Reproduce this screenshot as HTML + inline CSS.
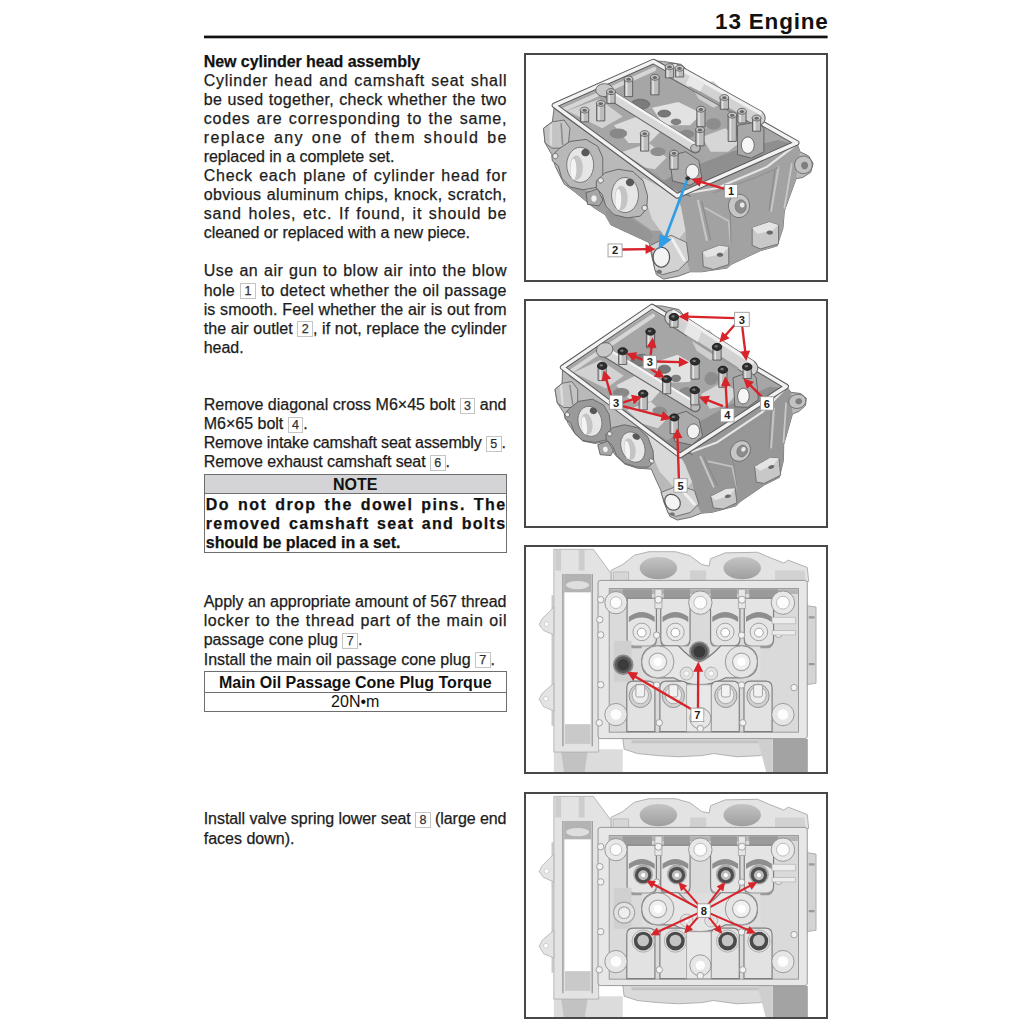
<!DOCTYPE html><html><head><meta charset="utf-8"><style>
*{margin:0;padding:0;box-sizing:border-box}
html,body{width:1024px;height:1024px;background:#fff;overflow:hidden}
body{position:relative;font-family:"Liberation Sans",sans-serif;color:#1c1c1c}
.l{position:absolute;left:203.70px;white-space:nowrap;font-size:16px;line-height:19px;-webkit-text-stroke:0.25px #1c1c1c}
.l.b{font-weight:bold;color:#111}
.bx{display:inline-block;width:15.6px;height:16px;border:1px solid #c4c4c4;font-size:12.5px;line-height:14px;text-align:center;color:#3a3a3a;letter-spacing:0;word-spacing:0;vertical-align:baseline;position:relative;top:-0.4px;font-weight:normal}

.hdr{position:absolute;left:600px;width:228.6px;text-align:right;top:6.95px;font-size:22.5px;letter-spacing:0.8px;font-weight:bold;line-height:30px;color:#111}
.hl{position:absolute;left:0;top:0}
.tb{position:absolute;left:204px;width:302.5px;border:1.3px solid #6e6e6e}
.fr{position:absolute;left:524px;width:304px;border:2px solid #484848}
.im{position:absolute;left:526px;overflow:hidden}
.th{position:absolute;left:0;right:0;text-align:center;font-weight:bold;font-size:16px;line-height:19px;color:#111}
</style></head><body><div class="hdr">13 Engine</div><svg class="hl" width="1024" height="60"><rect x="204" y="35.6" width="623.6" height="2.7" fill="#111"/></svg>
<div class="l b" style="left:203.70px;top:51.96px;letter-spacing:-0.055px;word-spacing:0.000px"><span>New cylinder head assembly</span></div>
<div class="l " style="left:203.70px;top:70.86px;letter-spacing:0.725px;word-spacing:1.087px"><span>Cylinder head and camshaft seat shall</span></div>
<div class="l " style="left:203.70px;top:89.86px;letter-spacing:0.330px;word-spacing:0.495px"><span>be used together, check whether the two</span></div>
<div class="l " style="left:203.70px;top:108.86px;letter-spacing:0.804px;word-spacing:1.207px"><span>codes are corresponding to the same,</span></div>
<div class="l " style="left:203.70px;top:127.86px;letter-spacing:1.398px;word-spacing:2.096px"><span>replace any one of them should be</span></div>
<div class="l " style="left:203.70px;top:146.96px;letter-spacing:-0.020px;word-spacing:0.000px"><span>replaced in a complete set.</span></div>
<div class="l " style="left:203.70px;top:165.96px;letter-spacing:0.760px;word-spacing:1.140px"><span>Check each plane of cylinder head for</span></div>
<div class="l " style="left:203.70px;top:184.96px;letter-spacing:0.374px;word-spacing:0.561px"><span>obvious aluminum chips, knock, scratch,</span></div>
<div class="l " style="left:203.70px;top:204.06px;letter-spacing:0.870px;word-spacing:1.304px"><span>sand holes, etc. If found, it should be</span></div>
<div class="l " style="left:203.70px;top:222.96px;letter-spacing:-0.039px;word-spacing:0.000px"><span>cleaned or replaced with a new piece.</span></div>
<div class="l " style="left:203.70px;top:261.06px;letter-spacing:0.516px;word-spacing:0.774px"><span>Use an air gun to blow air into the blow</span></div>
<div class="l " style="left:203.70px;top:280.56px;letter-spacing:0.273px;word-spacing:0.409px"><span>hole <span class="bx">1</span> to detect whether the oil passage</span></div>
<div class="l " style="left:203.70px;top:299.76px;letter-spacing:0.091px;word-spacing:0.136px"><span>is smooth. Feel whether the air is out from</span></div>
<div class="l " style="left:203.70px;top:318.86px;letter-spacing:0.062px;word-spacing:0.093px"><span>the air outlet <span class="bx">2</span>, if not, replace the cylinder</span></div>
<div class="l " style="left:203.70px;top:338.06px;letter-spacing:-0.037px;word-spacing:0.000px"><span>head.</span></div>
<div class="l " style="left:203.70px;top:395.26px;letter-spacing:0.008px;word-spacing:0.012px"><span>Remove diagonal cross M6×45 bolt <span class="bx">3</span> and</span></div>
<div class="l " style="left:203.70px;top:414.06px;letter-spacing:0.000px;word-spacing:0.000px"><span>M6×65 bolt <span class="bx">4</span>.</span></div>
<div class="l " style="left:203.70px;top:433.36px;letter-spacing:-0.135px;word-spacing:0.000px"><span>Remove intake camshaft seat assembly <span class="bx">5</span>.</span></div>
<div class="l " style="left:203.70px;top:452.46px;letter-spacing:-0.080px;word-spacing:0.000px"><span>Remove exhaust camshaft seat <span class="bx">6</span>.</span></div>
<div class="l b" style="left:205.80px;top:494.96px;letter-spacing:1.430px;word-spacing:2.144px"><span>Do not drop the dowel pins. The</span></div>
<div class="l b" style="left:205.80px;top:513.96px;letter-spacing:1.274px;word-spacing:1.912px"><span>removed camshaft seat and bolts</span></div>
<div class="l b" style="left:205.80px;top:532.86px;letter-spacing:0.000px;word-spacing:0.000px"><span>should be placed in a set.</span></div>
<div class="l " style="left:203.70px;top:592.26px;letter-spacing:-0.029px;word-spacing:-0.043px"><span>Apply an appropriate amount of 567 thread</span></div>
<div class="l " style="left:203.70px;top:611.36px;letter-spacing:0.572px;word-spacing:0.858px"><span>locker to the thread part of the main oil</span></div>
<div class="l " style="left:203.70px;top:630.36px;letter-spacing:0.000px;word-spacing:0.000px"><span>passage cone plug <span class="bx">7</span>.</span></div>
<div class="l " style="left:203.70px;top:649.76px;letter-spacing:0.000px;word-spacing:0.000px"><span>Install the main oil passage cone plug <span class="bx">7</span>.</span></div>
<div class="l " style="left:203.70px;top:809.16px;letter-spacing:-0.052px;word-spacing:-0.078px"><span>Install valve spring lower seat <span class="bx">8</span> (large end</span></div>
<div class="l " style="left:203.70px;top:828.76px;letter-spacing:0.000px;word-spacing:0.000px"><span>faces down).</span></div>
<div class="tb" style="top:473.5px;height:79.2px"><div style="position:absolute;left:0;right:0;top:0;height:19.4px;background:#d4d4d6;border-bottom:1.6px solid #707070"></div><div class="th" style="top:0.3px">NOTE</div></div>
<div class="tb" style="top:671.3px;height:40.5px"><div style="position:absolute;left:0;right:0;top:19.5px;height:1.6px;background:#707070"></div><div class="th" style="top:0.5px">Main Oil Passage Cone Plug Torque</div><div class="th" style="top:20.2px;font-weight:normal">20N•m</div></div>
<svg class="im" style="top:55px" width="300" height="225" viewBox="0 0 1024 768"><path d="M97.0,172.0 L435.0,20.0 L470.0,22.0 L530.0,32.0 L560.0,62.0 L640.0,110.0 L690.0,135.0 L720.0,185.0 L790.0,205.0 L812.0,248.0 L924.0,298.0 L935.0,330.0 L965.0,345.0 L980.0,370.0 L972.0,400.0 L945.0,418.0 L922.0,422.0 L882.0,532.0 L877.0,592.0 L857.0,652.0 L800.0,668.0 L700.0,715.0 L687.0,727.0 L600.0,740.0 L560.0,740.0 L520.0,755.0 L470.0,765.0 L445.0,750.0 L430.0,690.0 L420.0,640.0 L290.0,580.0 L270.0,545.0 L230.0,520.0 L170.0,470.0 L130.0,440.0 L100.0,380.0 L88.0,340.0 L65.0,300.0 L60.0,250.0 L90.0,228.0 Z" fill="#b9b9b9" stroke="#666" stroke-width="3" stroke-linejoin="round"/><path d="M135.0,440.0 L230.0,470.0 L300.0,500.0 L330.0,530.0 L430.0,600.0 L480.0,600.0 L500.0,640.0 L430.0,650.0 L420.0,640.0 L290.0,580.0 L270.0,545.0 L230.0,520.0 L170.0,470.0 Z" fill="#9c9c9c"/><path d="M270.0,532.0 L330.0,540.0 L420.0,600.0 L435.0,617.0 L420.0,640.0 L290.0,580.0 Z" fill="#959595"/><path d="M400.0,420.0 L516.0,481.0 L530.0,520.0 L545.0,600.0 L520.0,630.0 L470.0,615.0 L430.0,560.0 L410.0,500.0 Z" fill="#d9d9d9"/><path d="M516.0,481.0 L924.0,300.0 L935.0,330.0 L922.0,422.0 L882.0,532.0 L877.0,592.0 L857.0,652.0 L800.0,668.0 L700.0,715.0 L687.0,727.0 L600.0,740.0 L560.0,740.0 L548.0,700.0 L545.0,600.0 L530.0,520.0 Z" fill="#a2a2a2"/><path d="M587.0,497.0 L617.0,632.0" fill="none" stroke="#c6c6c6" stroke-width="7" stroke-linecap="round" stroke-linejoin="round"/><path d="M600.0,500.0 L630.0,630.0" fill="none" stroke="#8a8a8a" stroke-width="4" stroke-linecap="round" stroke-linejoin="round"/><path d="M612.0,522.0 L692.0,567.0 L700.0,660.0" fill="none" stroke="#c2c2c2" stroke-width="6" stroke-linecap="round" stroke-linejoin="round"/><path d="M697.0,532.0 L700.0,660.0" fill="none" stroke="#8c8c8c" stroke-width="4" stroke-linecap="round" stroke-linejoin="round"/><path d="M862.0,382.0 L837.0,532.0" fill="none" stroke="#c4c4c4" stroke-width="7" stroke-linecap="round" stroke-linejoin="round"/><path d="M907.0,372.0 L882.0,522.0" fill="none" stroke="#c8c8c8" stroke-width="6" stroke-linecap="round" stroke-linejoin="round"/><path d="M850.0,390.0 L830.0,530.0" fill="none" stroke="#8a8a8a" stroke-width="4" stroke-linecap="round" stroke-linejoin="round"/><path d="M640.0,470.0 L780.0,420.0 L860.0,385.0" fill="none" stroke="#959595" stroke-width="5" stroke-linecap="round" stroke-linejoin="round"/><path d="M470.0,430.0 L560.0,470.0 L650.0,455.0 L822.0,382.0 L924.0,305.0" fill="none" stroke="#e6e6e6" stroke-width="7" stroke-linecap="round" stroke-linejoin="round"/><path d="M480.0,446.0 L560.0,482.0" fill="none" stroke="#666" stroke-width="3" stroke-linecap="round" stroke-linejoin="round"/><path d="M772.0,590.0 L830.0,570.0 L862.0,580.0 L862.0,645.0 L800.0,662.0 L772.0,650.0 Z" fill="#c8c8c8" stroke="#6a6a6a" stroke-width="3" stroke-linejoin="round"/><path d="M772.0,590.0 L830.0,570.0 L862.0,580.0 L840.0,600.0 L790.0,610.0 Z" fill="#e4e4e4"/><path d="M843.0,606.0 L842.7,607.6 L841.9,609.0 L840.6,610.4 L838.9,611.5 L836.8,612.3 L834.4,612.8 L832.0,613.0 L829.6,612.8 L827.2,612.3 L825.1,611.5 L823.4,610.4 L822.1,609.0 L821.3,607.6 L821.0,606.0 L821.3,604.4 L822.1,603.0 L823.4,601.6 L825.1,600.5 L827.2,599.7 L829.6,599.2 L832.0,599.0 L834.4,599.2 L836.8,599.7 L838.9,600.5 L840.6,601.6 L841.9,603.0 L842.7,604.4 Z" fill="#6a6a6a"/><path d="M602.0,672.0 L660.0,650.0 L692.0,655.0 L692.0,715.0 L640.0,732.0 L605.0,722.0 Z" fill="#c8c8c8" stroke="#6a6a6a" stroke-width="3" stroke-linejoin="round"/><path d="M602.0,672.0 L660.0,650.0 L692.0,655.0 L670.0,680.0 L615.0,690.0 Z" fill="#e4e4e4"/><path d="M673.0,682.0 L672.7,683.6 L671.9,685.0 L670.6,686.4 L668.9,687.5 L666.8,688.3 L664.4,688.8 L662.0,689.0 L659.6,688.8 L657.2,688.3 L655.1,687.5 L653.4,686.4 L652.1,685.0 L651.3,683.6 L651.0,682.0 L651.3,680.4 L652.1,679.0 L653.4,677.6 L655.1,676.5 L657.2,675.7 L659.6,675.2 L662.0,675.0 L664.4,675.2 L666.8,675.7 L668.9,676.5 L670.6,677.6 L671.9,679.0 L672.7,680.4 Z" fill="#6a6a6a"/><path d="M763.0,515.0 L762.1,523.9 L759.4,532.4 L755.1,539.9 L749.4,546.3 L742.6,551.0 L735.0,554.0 L727.0,555.0 L719.0,554.0 L711.4,551.0 L704.6,546.3 L698.9,539.9 L694.6,532.4 L691.9,523.9 L691.0,515.0 L691.9,506.1 L694.6,497.6 L698.9,490.1 L704.6,483.7 L711.4,479.0 L719.0,476.0 L727.0,475.0 L735.0,476.0 L742.6,479.0 L749.4,483.7 L755.1,490.1 L759.4,497.6 L762.1,506.1 Z" fill="#c6c6c6" stroke="#686868" stroke-width="3" stroke-linejoin="round"/><path d="M752.0,517.0 L751.5,522.1 L750.1,527.0 L747.9,531.3 L744.8,535.0 L741.2,537.7 L737.2,539.4 L733.0,540.0 L728.8,539.4 L724.8,537.7 L721.2,535.0 L718.1,531.3 L715.9,527.0 L714.5,522.1 L714.0,517.0 L714.5,511.9 L715.9,507.0 L718.1,502.7 L721.2,499.0 L724.8,496.3 L728.8,494.6 L733.0,494.0 L737.2,494.6 L741.2,496.3 L744.8,499.0 L747.9,502.7 L750.1,507.0 L751.5,511.9 Z" fill="#8c8c8c" stroke="#666" stroke-width="2" stroke-linejoin="round"/><path d="M746.0,512.0 L745.8,514.0 L745.2,515.9 L744.3,517.6 L743.0,519.0 L741.5,520.1 L739.8,520.8 L738.0,521.0 L736.2,520.8 L734.5,520.1 L733.0,519.0 L731.7,517.6 L730.8,515.9 L730.2,514.0 L730.0,512.0 L730.2,510.0 L730.8,508.1 L731.7,506.4 L733.0,505.0 L734.5,503.9 L736.2,503.2 L738.0,503.0 L739.8,503.2 L741.5,503.9 L743.0,505.0 L744.3,506.4 L745.2,508.1 L745.8,510.0 Z" fill="#e8e8e8"/><path d="M977.0,375.0 L976.2,381.7 L974.0,388.0 L970.5,393.7 L965.7,398.5 L960.0,402.0 L953.7,404.2 L947.0,405.0 L940.3,404.2 L934.0,402.0 L928.3,398.5 L923.5,393.7 L920.0,388.0 L917.8,381.7 L917.0,375.0 L917.8,368.3 L920.0,362.0 L923.5,356.3 L928.3,351.5 L934.0,348.0 L940.3,345.8 L947.0,345.0 L953.7,345.8 L960.0,348.0 L965.7,351.5 L970.5,356.3 L974.0,362.0 L976.2,368.3 Z" fill="#c2c2c2" stroke="#666" stroke-width="3" stroke-linejoin="round"/><path d="M963.0,377.0 L962.7,379.9 L961.8,382.6 L960.4,385.1 L958.5,387.2 L956.2,388.7 L953.7,389.7 L951.0,390.0 L948.3,389.7 L945.8,388.7 L943.5,387.2 L941.6,385.1 L940.2,382.6 L939.3,379.9 L939.0,377.0 L939.3,374.1 L940.2,371.4 L941.6,368.9 L943.5,366.8 L945.8,365.3 L948.3,364.3 L951.0,364.0 L953.7,364.3 L956.2,365.3 L958.5,366.8 L960.4,368.9 L961.8,371.4 L962.7,374.1 Z" fill="#7e7e7e"/><path d="M112.0,178.0 L435.0,34.0 L912.0,298.0 L516.0,468.0 Z" fill="#a6a6a6"/><path d="M140.0,190.0 L250.0,150.0 L330.0,210.0 L260.0,250.0 Z" fill="#d2d2d2"/><path d="M300.0,240.0 L380.0,210.0 L460.0,260.0 L420.0,300.0 L350.0,300.0 Z" fill="#dcdcdc"/><path d="M430.0,180.0 L520.0,160.0 L600.0,200.0 L560.0,240.0 L470.0,240.0 Z" fill="#e2e2e2"/><path d="M330.0,330.0 L420.0,300.0 L480.0,350.0 L440.0,390.0 L380.0,380.0 Z" fill="#d8d8d8"/><path d="M600.0,280.0 L680.0,250.0 L740.0,290.0 L690.0,330.0 L630.0,330.0 Z" fill="#d6d6d6"/><path d="M560.0,100.0 L640.0,90.0 L700.0,150.0 L640.0,180.0 L590.0,150.0 Z" fill="#cfcfcf"/><path d="M422.0,168.0 L421.2,171.8 L418.8,175.4 L415.0,178.6 L410.0,181.3 L403.9,183.3 L397.1,184.6 L390.0,185.0 L382.9,184.6 L376.1,183.3 L370.0,181.3 L365.0,178.6 L361.2,175.4 L358.8,171.8 L358.0,168.0 L358.8,164.2 L361.2,160.6 L365.0,157.4 L370.0,154.7 L376.1,152.7 L382.9,151.4 L390.0,151.0 L397.1,151.4 L403.9,152.7 L410.0,154.7 L415.0,157.4 L418.8,160.6 L421.2,164.2 Z" fill="#7c7c7c" stroke="#555" stroke-width="2" stroke-linejoin="round"/><path d="M494.0,200.0 L493.4,202.7 L491.8,205.2 L489.2,207.5 L485.7,209.4 L481.5,210.8 L476.9,211.7 L472.0,212.0 L467.1,211.7 L462.5,210.8 L458.3,209.4 L454.8,207.5 L452.2,205.2 L450.6,202.7 L450.0,200.0 L450.6,197.3 L452.2,194.8 L454.8,192.5 L458.3,190.6 L462.5,189.2 L467.1,188.3 L472.0,188.0 L476.9,188.3 L481.5,189.2 L485.7,190.6 L489.2,192.5 L491.8,194.8 L493.4,197.3 Z" fill="#777" stroke="#555" stroke-width="2" stroke-linejoin="round"/><path d="M530.0,228.0 L529.5,230.4 L528.2,232.8 L526.1,234.9 L523.2,236.6 L519.8,237.9 L516.0,238.7 L512.0,239.0 L508.0,238.7 L504.2,237.9 L500.8,236.6 L497.9,234.9 L495.8,232.8 L494.5,230.4 L494.0,228.0 L494.5,225.6 L495.8,223.2 L497.9,221.1 L500.8,219.4 L504.2,218.1 L508.0,217.3 L512.0,217.0 L516.0,217.3 L519.8,218.1 L523.2,219.4 L526.1,221.1 L528.2,223.2 L529.5,225.6 Z" fill="#808080"/><path d="M574.0,270.0 L573.3,273.3 L571.4,276.5 L568.3,279.4 L564.2,281.7 L559.3,283.5 L553.8,284.6 L548.0,285.0 L542.2,284.6 L536.7,283.5 L531.8,281.7 L527.7,279.4 L524.6,276.5 L522.7,273.3 L522.0,270.0 L522.7,266.7 L524.6,263.5 L527.7,260.6 L531.8,258.3 L536.7,256.5 L542.2,255.4 L548.0,255.0 L553.8,255.4 L559.3,256.5 L564.2,258.3 L568.3,260.6 L571.4,263.5 L573.3,266.7 Z" fill="#8a8a8a"/><path d="M345.0,268.0 L344.2,271.8 L342.0,275.4 L338.5,278.6 L333.7,281.3 L328.0,283.3 L321.7,284.6 L315.0,285.0 L308.3,284.6 L302.0,283.3 L296.3,281.3 L291.5,278.6 L288.0,275.4 L285.8,271.8 L285.0,268.0 L285.8,264.2 L288.0,260.6 L291.5,257.4 L296.3,254.7 L302.0,252.7 L308.3,251.4 L315.0,251.0 L321.7,251.4 L328.0,252.7 L333.7,254.7 L338.5,257.4 L342.0,260.6 L344.2,264.2 Z" fill="#888"/><path d="M665.0,235.0 L664.4,239.5 L662.5,243.7 L659.5,247.5 L655.6,250.6 L650.8,253.0 L645.6,254.5 L640.0,255.0 L634.4,254.5 L629.2,253.0 L624.4,250.6 L620.5,247.5 L617.5,243.7 L615.6,239.5 L615.0,235.0 L615.6,230.5 L617.5,226.3 L620.5,222.5 L624.4,219.4 L629.2,217.0 L634.4,215.5 L640.0,215.0 L645.6,215.5 L650.8,217.0 L655.6,219.4 L659.5,222.5 L662.5,226.3 L664.4,230.5 Z" fill="#8d8d8d"/><path d="M476.0,330.0 L475.3,333.3 L473.4,336.5 L470.3,339.4 L466.2,341.7 L461.3,343.5 L455.8,344.6 L450.0,345.0 L444.2,344.6 L438.7,343.5 L433.8,341.7 L429.7,339.4 L426.6,336.5 L424.7,333.3 L424.0,330.0 L424.7,326.7 L426.6,323.5 L429.7,320.6 L433.8,318.3 L438.7,316.5 L444.2,315.4 L450.0,315.0 L455.8,315.4 L461.3,316.5 L466.2,318.3 L470.3,320.6 L473.4,323.5 L475.3,326.7 Z" fill="#8e8e8e"/><path d="M122.0,190.0 L438.0,48.0" fill="none" stroke="#d6d6d6" stroke-width="14" stroke-linecap="round" stroke-linejoin="round"/><path d="M125.0,200.0 L500.0,455.0" fill="none" stroke="#939393" stroke-width="12" stroke-linecap="round" stroke-linejoin="round"/><path d="M470.0,430.0 L520.0,400.0 L700.0,330.0 L860.0,290.0 L900.0,300.0 L520.0,468.0 Z" fill="#8f8f8f"/><path d="M97.0,172.0 L435.0,22.0 L924.0,300.0 L516.0,481.0 Z" fill="none" stroke="#5a5a5a" stroke-width="19" stroke-linecap="round" stroke-linejoin="round"/><path d="M97.0,172.0 L435.0,22.0 L924.0,300.0 L516.0,481.0 Z" fill="none" stroke="#f2f2f2" stroke-width="12" stroke-linecap="round" stroke-linejoin="round"/><path d="M505.0,55.0 L790.0,215.0" fill="none" stroke="#666" stroke-width="56" stroke-linecap="round" stroke-linejoin="round"/><path d="M505.0,55.0 L790.0,215.0" fill="none" stroke="#d2d2d2" stroke-width="49" stroke-linecap="round" stroke-linejoin="round"/><path d="M510.0,38.0 L800.0,198.0" fill="none" stroke="#efefef" stroke-width="12" stroke-linecap="round" stroke-linejoin="round"/><path d="M560.0,110.0 L740.0,212.0" fill="none" stroke="#9c9c9c" stroke-width="9" stroke-linecap="round" stroke-linejoin="round"/><path d="M560.0,70.0 L610.0,95.0 L595.0,125.0 L545.0,100.0 Z" fill="#e8e8e8"/><path d="M722.0,240.0 L790.0,228.0 L812.0,250.0 L812.0,330.0 L770.0,352.0 L722.0,340.0 Z" fill="#a8a8a8" stroke="#5c5c5c" stroke-width="3" stroke-linejoin="round"/><path d="M779.0,308.0 L778.4,314.2 L776.8,320.1 L774.2,325.5 L770.7,329.9 L766.5,333.2 L761.9,335.3 L757.0,336.0 L752.1,335.3 L747.5,333.2 L743.3,329.9 L739.8,325.5 L737.2,320.1 L735.6,314.2 L735.0,308.0 L735.6,301.8 L737.2,295.9 L739.8,290.5 L743.3,286.1 L747.5,282.8 L752.1,280.7 L757.0,280.0 L761.9,280.7 L766.5,282.8 L770.7,286.1 L774.2,290.5 L776.8,295.9 L778.4,301.8 Z" fill="#f6f6f6" stroke="#5c5c5c" stroke-width="3" stroke-linejoin="round"/><path d="M262.0,120.0 L578.0,318.0" fill="none" stroke="#666" stroke-width="36" stroke-linecap="round" stroke-linejoin="round"/><path d="M262.0,120.0 L578.0,318.0" fill="none" stroke="#d8d8d8" stroke-width="29" stroke-linecap="round" stroke-linejoin="round"/><path d="M268.0,110.0 L585.0,308.0" fill="none" stroke="#f4f4f4" stroke-width="8" stroke-linecap="round" stroke-linejoin="round"/><path d="M298.0,120.0 L297.2,124.9 L295.0,129.5 L291.5,133.7 L286.7,137.2 L281.0,139.8 L274.7,141.4 L268.0,142.0 L261.3,141.4 L255.0,139.8 L249.3,137.2 L244.5,133.7 L241.0,129.5 L238.8,124.9 L238.0,120.0 L238.8,115.1 L241.0,110.5 L244.5,106.3 L249.3,102.8 L255.0,100.2 L261.3,98.6 L268.0,98.0 L274.7,98.6 L281.0,100.2 L286.7,102.8 L291.5,106.3 L295.0,110.5 L297.2,115.1 Z" fill="#c8c8c8" stroke="#5c5c5c" stroke-width="3" stroke-linejoin="round"/><path d="M594.0,318.0 L593.6,321.1 L592.4,324.1 L590.5,326.7 L588.0,328.9 L584.9,330.6 L581.6,331.6 L578.0,332.0 L574.4,331.6 L571.1,330.6 L568.0,328.9 L565.5,326.7 L563.6,324.1 L562.4,321.1 L562.0,318.0 L562.4,314.9 L563.6,311.9 L565.5,309.3 L568.0,307.1 L571.1,305.4 L574.4,304.4 L578.0,304.0 L581.6,304.4 L584.9,305.4 L588.0,307.1 L590.5,309.3 L592.4,311.9 L593.6,314.9 Z" fill="#bbb" stroke="#5c5c5c" stroke-width="3" stroke-linejoin="round"/><path d="M490.0,345.0 L545.0,330.0 L590.0,360.0 L600.0,420.0 L560.0,445.0 L500.0,430.0 Z" fill="#ababab" stroke="#5c5c5c" stroke-width="3" stroke-linejoin="round"/><path d="M590.0,398.0 L589.4,403.6 L587.8,408.8 L585.2,413.6 L581.7,417.5 L577.5,420.5 L572.9,422.4 L568.0,423.0 L563.1,422.4 L558.5,420.5 L554.3,417.5 L550.8,413.6 L548.2,408.8 L546.6,403.6 L546.0,398.0 L546.6,392.4 L548.2,387.2 L550.8,382.4 L554.3,378.5 L558.5,375.5 L563.1,373.6 L568.0,373.0 L572.9,373.6 L577.5,375.5 L581.7,378.5 L585.2,382.4 L587.8,387.2 L589.4,392.4 Z" fill="#f2f2f2" stroke="#5c5c5c" stroke-width="3" stroke-linejoin="round"/><path d="M476.0,40.0 L504.0,40.0 L504.0,78.0 L476.0,78.0 Z" fill="#bdbdbd" stroke="#555" stroke-width="3" stroke-linejoin="round"/><path d="M484.0,44.0 L484.0,74.0" fill="none" stroke="#e4e4e4" stroke-width="5" stroke-linecap="round" stroke-linejoin="round"/><path d="M505.0,40.0 L504.6,42.2 L503.5,44.3 L501.7,46.2 L499.4,47.8 L496.5,49.0 L493.3,49.7 L490.0,50.0 L486.7,49.7 L483.5,49.0 L480.6,47.8 L478.3,46.2 L476.5,44.3 L475.4,42.2 L475.0,40.0 L475.4,37.8 L476.5,35.7 L478.3,33.8 L480.6,32.2 L483.5,31.0 L486.7,30.3 L490.0,30.0 L493.3,30.3 L496.5,31.0 L499.4,32.2 L501.7,33.8 L503.5,35.7 L504.6,37.8 Z" fill="#c9c9c9" stroke="#555" stroke-width="3" stroke-linejoin="round"/><path d="M498.0,41.0 L497.8,42.1 L497.2,43.2 L496.3,44.1 L495.0,44.9 L493.5,45.5 L491.8,45.9 L490.0,46.0 L488.2,45.9 L486.5,45.5 L485.0,44.9 L483.7,44.1 L482.8,43.2 L482.2,42.1 L482.0,41.0 L482.2,39.9 L482.8,38.8 L483.7,37.9 L485.0,37.1 L486.5,36.5 L488.2,36.1 L490.0,36.0 L491.8,36.1 L493.5,36.5 L495.0,37.1 L496.3,37.9 L497.2,38.8 L497.8,39.9 Z" fill="#6a6a6a"/><path d="M510.0,45.0 L538.0,45.0 L538.0,75.0 L510.0,75.0 Z" fill="#bdbdbd" stroke="#555" stroke-width="3" stroke-linejoin="round"/><path d="M518.0,49.0 L518.0,71.0" fill="none" stroke="#e4e4e4" stroke-width="5" stroke-linecap="round" stroke-linejoin="round"/><path d="M539.0,45.0 L538.6,47.2 L537.5,49.3 L535.7,51.2 L533.4,52.8 L530.5,54.0 L527.3,54.7 L524.0,55.0 L520.7,54.7 L517.5,54.0 L514.6,52.8 L512.3,51.2 L510.5,49.3 L509.4,47.2 L509.0,45.0 L509.4,42.8 L510.5,40.7 L512.3,38.8 L514.6,37.2 L517.5,36.0 L520.7,35.3 L524.0,35.0 L527.3,35.3 L530.5,36.0 L533.4,37.2 L535.7,38.8 L537.5,40.7 L538.6,42.8 Z" fill="#c9c9c9" stroke="#555" stroke-width="3" stroke-linejoin="round"/><path d="M532.0,46.0 L531.8,47.1 L531.2,48.2 L530.3,49.1 L529.0,49.9 L527.5,50.5 L525.8,50.9 L524.0,51.0 L522.2,50.9 L520.5,50.5 L519.0,49.9 L517.7,49.1 L516.8,48.2 L516.2,47.1 L516.0,46.0 L516.2,44.9 L516.8,43.8 L517.7,42.9 L519.0,42.1 L520.5,41.5 L522.2,41.1 L524.0,41.0 L525.8,41.1 L527.5,41.5 L529.0,42.1 L530.3,42.9 L531.2,43.8 L531.8,44.9 Z" fill="#6a6a6a"/><path d="M336.0,82.0 L364.0,82.0 L364.0,142.0 L336.0,142.0 Z" fill="#bdbdbd" stroke="#555" stroke-width="3" stroke-linejoin="round"/><path d="M344.0,86.0 L344.0,138.0" fill="none" stroke="#e4e4e4" stroke-width="5" stroke-linecap="round" stroke-linejoin="round"/><path d="M365.0,82.0 L364.6,84.2 L363.5,86.3 L361.7,88.2 L359.4,89.8 L356.5,91.0 L353.3,91.7 L350.0,92.0 L346.7,91.7 L343.5,91.0 L340.6,89.8 L338.3,88.2 L336.5,86.3 L335.4,84.2 L335.0,82.0 L335.4,79.8 L336.5,77.7 L338.3,75.8 L340.6,74.2 L343.5,73.0 L346.7,72.3 L350.0,72.0 L353.3,72.3 L356.5,73.0 L359.4,74.2 L361.7,75.8 L363.5,77.7 L364.6,79.8 Z" fill="#c9c9c9" stroke="#555" stroke-width="3" stroke-linejoin="round"/><path d="M358.0,83.0 L357.8,84.1 L357.2,85.2 L356.3,86.1 L355.0,86.9 L353.5,87.5 L351.8,87.9 L350.0,88.0 L348.2,87.9 L346.5,87.5 L345.0,86.9 L343.7,86.1 L342.8,85.2 L342.2,84.1 L342.0,83.0 L342.2,81.9 L342.8,80.8 L343.7,79.9 L345.0,79.1 L346.5,78.5 L348.2,78.1 L350.0,78.0 L351.8,78.1 L353.5,78.5 L355.0,79.1 L356.3,79.9 L357.2,80.8 L357.8,81.9 Z" fill="#6a6a6a"/><path d="M426.0,76.0 L454.0,76.0 L454.0,136.0 L426.0,136.0 Z" fill="#bdbdbd" stroke="#555" stroke-width="3" stroke-linejoin="round"/><path d="M434.0,80.0 L434.0,132.0" fill="none" stroke="#e4e4e4" stroke-width="5" stroke-linecap="round" stroke-linejoin="round"/><path d="M455.0,76.0 L454.6,78.2 L453.5,80.3 L451.7,82.2 L449.4,83.8 L446.5,85.0 L443.3,85.7 L440.0,86.0 L436.7,85.7 L433.5,85.0 L430.6,83.8 L428.3,82.2 L426.5,80.3 L425.4,78.2 L425.0,76.0 L425.4,73.8 L426.5,71.7 L428.3,69.8 L430.6,68.2 L433.5,67.0 L436.7,66.3 L440.0,66.0 L443.3,66.3 L446.5,67.0 L449.4,68.2 L451.7,69.8 L453.5,71.7 L454.6,73.8 Z" fill="#c9c9c9" stroke="#555" stroke-width="3" stroke-linejoin="round"/><path d="M448.0,77.0 L447.8,78.1 L447.2,79.2 L446.3,80.1 L445.0,80.9 L443.5,81.5 L441.8,81.9 L440.0,82.0 L438.2,81.9 L436.5,81.5 L435.0,80.9 L433.7,80.1 L432.8,79.2 L432.2,78.1 L432.0,77.0 L432.2,75.9 L432.8,74.8 L433.7,73.9 L435.0,73.1 L436.5,72.5 L438.2,72.1 L440.0,72.0 L441.8,72.1 L443.5,72.5 L445.0,73.1 L446.3,73.9 L447.2,74.8 L447.8,75.9 Z" fill="#6a6a6a"/><path d="M241.0,165.0 L269.0,165.0 L269.0,225.0 L241.0,225.0 Z" fill="#bdbdbd" stroke="#555" stroke-width="3" stroke-linejoin="round"/><path d="M249.0,169.0 L249.0,221.0" fill="none" stroke="#e4e4e4" stroke-width="5" stroke-linecap="round" stroke-linejoin="round"/><path d="M270.0,165.0 L269.6,167.2 L268.5,169.3 L266.7,171.2 L264.4,172.8 L261.5,174.0 L258.3,174.7 L255.0,175.0 L251.7,174.7 L248.5,174.0 L245.6,172.8 L243.3,171.2 L241.5,169.3 L240.4,167.2 L240.0,165.0 L240.4,162.8 L241.5,160.7 L243.3,158.8 L245.6,157.2 L248.5,156.0 L251.7,155.3 L255.0,155.0 L258.3,155.3 L261.5,156.0 L264.4,157.2 L266.7,158.8 L268.5,160.7 L269.6,162.8 Z" fill="#c9c9c9" stroke="#555" stroke-width="3" stroke-linejoin="round"/><path d="M263.0,166.0 L262.8,167.1 L262.2,168.2 L261.3,169.1 L260.0,169.9 L258.5,170.5 L256.8,170.9 L255.0,171.0 L253.2,170.9 L251.5,170.5 L250.0,169.9 L248.7,169.1 L247.8,168.2 L247.2,167.1 L247.0,166.0 L247.2,164.9 L247.8,163.8 L248.7,162.9 L250.0,162.1 L251.5,161.5 L253.2,161.1 L255.0,161.0 L256.8,161.1 L258.5,161.5 L260.0,162.1 L261.3,162.9 L262.2,163.8 L262.8,164.9 Z" fill="#6a6a6a"/><path d="M391.0,268.0 L419.0,268.0 L419.0,328.0 L391.0,328.0 Z" fill="#bdbdbd" stroke="#555" stroke-width="3" stroke-linejoin="round"/><path d="M399.0,272.0 L399.0,324.0" fill="none" stroke="#e4e4e4" stroke-width="5" stroke-linecap="round" stroke-linejoin="round"/><path d="M420.0,268.0 L419.6,270.2 L418.5,272.3 L416.7,274.2 L414.4,275.8 L411.5,277.0 L408.3,277.7 L405.0,278.0 L401.7,277.7 L398.5,277.0 L395.6,275.8 L393.3,274.2 L391.5,272.3 L390.4,270.2 L390.0,268.0 L390.4,265.8 L391.5,263.7 L393.3,261.8 L395.6,260.2 L398.5,259.0 L401.7,258.3 L405.0,258.0 L408.3,258.3 L411.5,259.0 L414.4,260.2 L416.7,261.8 L418.5,263.7 L419.6,265.8 Z" fill="#c9c9c9" stroke="#555" stroke-width="3" stroke-linejoin="round"/><path d="M413.0,269.0 L412.8,270.1 L412.2,271.2 L411.3,272.1 L410.0,272.9 L408.5,273.5 L406.8,273.9 L405.0,274.0 L403.2,273.9 L401.5,273.5 L400.0,272.9 L398.7,272.1 L397.8,271.2 L397.2,270.1 L397.0,269.0 L397.2,267.9 L397.8,266.8 L398.7,265.9 L400.0,265.1 L401.5,264.5 L403.2,264.1 L405.0,264.0 L406.8,264.1 L408.5,264.5 L410.0,265.1 L411.3,265.9 L412.2,266.8 L412.8,267.9 Z" fill="#6a6a6a"/><path d="M491.0,335.0 L519.0,335.0 L519.0,390.0 L491.0,390.0 Z" fill="#bdbdbd" stroke="#555" stroke-width="3" stroke-linejoin="round"/><path d="M499.0,339.0 L499.0,386.0" fill="none" stroke="#e4e4e4" stroke-width="5" stroke-linecap="round" stroke-linejoin="round"/><path d="M520.0,335.0 L519.6,337.2 L518.5,339.3 L516.7,341.2 L514.4,342.8 L511.5,344.0 L508.3,344.7 L505.0,345.0 L501.7,344.7 L498.5,344.0 L495.6,342.8 L493.3,341.2 L491.5,339.3 L490.4,337.2 L490.0,335.0 L490.4,332.8 L491.5,330.7 L493.3,328.8 L495.6,327.2 L498.5,326.0 L501.7,325.3 L505.0,325.0 L508.3,325.3 L511.5,326.0 L514.4,327.2 L516.7,328.8 L518.5,330.7 L519.6,332.8 Z" fill="#c9c9c9" stroke="#555" stroke-width="3" stroke-linejoin="round"/><path d="M513.0,336.0 L512.8,337.1 L512.2,338.2 L511.3,339.1 L510.0,339.9 L508.5,340.5 L506.8,340.9 L505.0,341.0 L503.2,340.9 L501.5,340.5 L500.0,339.9 L498.7,339.1 L497.8,338.2 L497.2,337.1 L497.0,336.0 L497.2,334.9 L497.8,333.8 L498.7,332.9 L500.0,332.1 L501.5,331.5 L503.2,331.1 L505.0,331.0 L506.8,331.1 L508.5,331.5 L510.0,332.1 L511.3,332.9 L512.2,333.8 L512.8,334.9 Z" fill="#6a6a6a"/><path d="M583.0,185.0 L611.0,185.0 L611.0,245.0 L583.0,245.0 Z" fill="#bdbdbd" stroke="#555" stroke-width="3" stroke-linejoin="round"/><path d="M591.0,189.0 L591.0,241.0" fill="none" stroke="#e4e4e4" stroke-width="5" stroke-linecap="round" stroke-linejoin="round"/><path d="M612.0,185.0 L611.6,187.2 L610.5,189.3 L608.7,191.2 L606.4,192.8 L603.5,194.0 L600.3,194.7 L597.0,195.0 L593.7,194.7 L590.5,194.0 L587.6,192.8 L585.3,191.2 L583.5,189.3 L582.4,187.2 L582.0,185.0 L582.4,182.8 L583.5,180.7 L585.3,178.8 L587.6,177.2 L590.5,176.0 L593.7,175.3 L597.0,175.0 L600.3,175.3 L603.5,176.0 L606.4,177.2 L608.7,178.8 L610.5,180.7 L611.6,182.8 Z" fill="#c9c9c9" stroke="#555" stroke-width="3" stroke-linejoin="round"/><path d="M605.0,186.0 L604.8,187.1 L604.2,188.2 L603.3,189.1 L602.0,189.9 L600.5,190.5 L598.8,190.9 L597.0,191.0 L595.2,190.9 L593.5,190.5 L592.0,189.9 L590.7,189.1 L589.8,188.2 L589.2,187.1 L589.0,186.0 L589.2,184.9 L589.8,183.8 L590.7,182.9 L592.0,182.1 L593.5,181.5 L595.2,181.1 L597.0,181.0 L598.8,181.1 L600.5,181.5 L602.0,182.1 L603.3,182.9 L604.2,183.8 L604.8,184.9 Z" fill="#6a6a6a"/><path d="M580.0,255.0 L608.0,255.0 L608.0,310.0 L580.0,310.0 Z" fill="#bdbdbd" stroke="#555" stroke-width="3" stroke-linejoin="round"/><path d="M588.0,259.0 L588.0,306.0" fill="none" stroke="#e4e4e4" stroke-width="5" stroke-linecap="round" stroke-linejoin="round"/><path d="M609.0,255.0 L608.6,257.2 L607.5,259.3 L605.7,261.2 L603.4,262.8 L600.5,264.0 L597.3,264.7 L594.0,265.0 L590.7,264.7 L587.5,264.0 L584.6,262.8 L582.3,261.2 L580.5,259.3 L579.4,257.2 L579.0,255.0 L579.4,252.8 L580.5,250.7 L582.3,248.8 L584.6,247.2 L587.5,246.0 L590.7,245.3 L594.0,245.0 L597.3,245.3 L600.5,246.0 L603.4,247.2 L605.7,248.8 L607.5,250.7 L608.6,252.8 Z" fill="#c9c9c9" stroke="#555" stroke-width="3" stroke-linejoin="round"/><path d="M602.0,256.0 L601.8,257.1 L601.2,258.2 L600.3,259.1 L599.0,259.9 L597.5,260.5 L595.8,260.9 L594.0,261.0 L592.2,260.9 L590.5,260.5 L589.0,259.9 L587.7,259.1 L586.8,258.2 L586.2,257.1 L586.0,256.0 L586.2,254.9 L586.8,253.8 L587.7,252.9 L589.0,252.1 L590.5,251.5 L592.2,251.1 L594.0,251.0 L595.8,251.1 L597.5,251.5 L599.0,252.1 L600.3,252.9 L601.2,253.8 L601.8,254.9 Z" fill="#6a6a6a"/><path d="M663.0,145.0 L691.0,145.0 L691.0,185.0 L663.0,185.0 Z" fill="#bdbdbd" stroke="#555" stroke-width="3" stroke-linejoin="round"/><path d="M671.0,149.0 L671.0,181.0" fill="none" stroke="#e4e4e4" stroke-width="5" stroke-linecap="round" stroke-linejoin="round"/><path d="M692.0,145.0 L691.6,147.2 L690.5,149.3 L688.7,151.2 L686.4,152.8 L683.5,154.0 L680.3,154.7 L677.0,155.0 L673.7,154.7 L670.5,154.0 L667.6,152.8 L665.3,151.2 L663.5,149.3 L662.4,147.2 L662.0,145.0 L662.4,142.8 L663.5,140.7 L665.3,138.8 L667.6,137.2 L670.5,136.0 L673.7,135.3 L677.0,135.0 L680.3,135.3 L683.5,136.0 L686.4,137.2 L688.7,138.8 L690.5,140.7 L691.6,142.8 Z" fill="#c9c9c9" stroke="#555" stroke-width="3" stroke-linejoin="round"/><path d="M685.0,146.0 L684.8,147.1 L684.2,148.2 L683.3,149.1 L682.0,149.9 L680.5,150.5 L678.8,150.9 L677.0,151.0 L675.2,150.9 L673.5,150.5 L672.0,149.9 L670.7,149.1 L669.8,148.2 L669.2,147.1 L669.0,146.0 L669.2,144.9 L669.8,143.8 L670.7,142.9 L672.0,142.1 L673.5,141.5 L675.2,141.1 L677.0,141.0 L678.8,141.1 L680.5,141.5 L682.0,142.1 L683.3,142.9 L684.2,143.8 L684.8,144.9 Z" fill="#6a6a6a"/><path d="M690.0,205.0 L718.0,205.0 L718.0,295.0 L690.0,295.0 Z" fill="#bdbdbd" stroke="#555" stroke-width="3" stroke-linejoin="round"/><path d="M698.0,209.0 L698.0,291.0" fill="none" stroke="#e4e4e4" stroke-width="5" stroke-linecap="round" stroke-linejoin="round"/><path d="M719.0,205.0 L718.6,207.2 L717.5,209.3 L715.7,211.2 L713.4,212.8 L710.5,214.0 L707.3,214.7 L704.0,215.0 L700.7,214.7 L697.5,214.0 L694.6,212.8 L692.3,211.2 L690.5,209.3 L689.4,207.2 L689.0,205.0 L689.4,202.8 L690.5,200.7 L692.3,198.8 L694.6,197.2 L697.5,196.0 L700.7,195.3 L704.0,195.0 L707.3,195.3 L710.5,196.0 L713.4,197.2 L715.7,198.8 L717.5,200.7 L718.6,202.8 Z" fill="#c9c9c9" stroke="#555" stroke-width="3" stroke-linejoin="round"/><path d="M712.0,206.0 L711.8,207.1 L711.2,208.2 L710.3,209.1 L709.0,209.9 L707.5,210.5 L705.8,210.9 L704.0,211.0 L702.2,210.9 L700.5,210.5 L699.0,209.9 L697.7,209.1 L696.8,208.2 L696.2,207.1 L696.0,206.0 L696.2,204.9 L696.8,203.8 L697.7,202.9 L699.0,202.1 L700.5,201.5 L702.2,201.1 L704.0,201.0 L705.8,201.1 L707.5,201.5 L709.0,202.1 L710.3,202.9 L711.2,203.8 L711.8,204.9 Z" fill="#6a6a6a"/><path d="M723.0,192.0 L751.0,192.0 L751.0,232.0 L723.0,232.0 Z" fill="#bdbdbd" stroke="#555" stroke-width="3" stroke-linejoin="round"/><path d="M731.0,196.0 L731.0,228.0" fill="none" stroke="#e4e4e4" stroke-width="5" stroke-linecap="round" stroke-linejoin="round"/><path d="M752.0,192.0 L751.6,194.2 L750.5,196.3 L748.7,198.2 L746.4,199.8 L743.5,201.0 L740.3,201.7 L737.0,202.0 L733.7,201.7 L730.5,201.0 L727.6,199.8 L725.3,198.2 L723.5,196.3 L722.4,194.2 L722.0,192.0 L722.4,189.8 L723.5,187.7 L725.3,185.8 L727.6,184.2 L730.5,183.0 L733.7,182.3 L737.0,182.0 L740.3,182.3 L743.5,183.0 L746.4,184.2 L748.7,185.8 L750.5,187.7 L751.6,189.8 Z" fill="#c9c9c9" stroke="#555" stroke-width="3" stroke-linejoin="round"/><path d="M745.0,193.0 L744.8,194.1 L744.2,195.2 L743.3,196.1 L742.0,196.9 L740.5,197.5 L738.8,197.9 L737.0,198.0 L735.2,197.9 L733.5,197.5 L732.0,196.9 L730.7,196.1 L729.8,195.2 L729.2,194.1 L729.0,193.0 L729.2,191.9 L729.8,190.8 L730.7,189.9 L732.0,189.1 L733.5,188.5 L735.2,188.1 L737.0,188.0 L738.8,188.1 L740.5,188.5 L742.0,189.1 L743.3,189.9 L744.2,190.8 L744.8,191.9 Z" fill="#6a6a6a"/><path d="M773.0,215.0 L801.0,215.0 L801.0,260.0 L773.0,260.0 Z" fill="#bdbdbd" stroke="#555" stroke-width="3" stroke-linejoin="round"/><path d="M781.0,219.0 L781.0,256.0" fill="none" stroke="#e4e4e4" stroke-width="5" stroke-linecap="round" stroke-linejoin="round"/><path d="M802.0,215.0 L801.6,217.2 L800.5,219.3 L798.7,221.2 L796.4,222.8 L793.5,224.0 L790.3,224.7 L787.0,225.0 L783.7,224.7 L780.5,224.0 L777.6,222.8 L775.3,221.2 L773.5,219.3 L772.4,217.2 L772.0,215.0 L772.4,212.8 L773.5,210.7 L775.3,208.8 L777.6,207.2 L780.5,206.0 L783.7,205.3 L787.0,205.0 L790.3,205.3 L793.5,206.0 L796.4,207.2 L798.7,208.8 L800.5,210.7 L801.6,212.8 Z" fill="#c9c9c9" stroke="#555" stroke-width="3" stroke-linejoin="round"/><path d="M795.0,216.0 L794.8,217.1 L794.2,218.2 L793.3,219.1 L792.0,219.9 L790.5,220.5 L788.8,220.9 L787.0,221.0 L785.2,220.9 L783.5,220.5 L782.0,219.9 L780.7,219.1 L779.8,218.2 L779.2,217.1 L779.0,216.0 L779.2,214.9 L779.8,213.8 L780.7,212.9 L782.0,212.1 L783.5,211.5 L785.2,211.1 L787.0,211.0 L788.8,211.1 L790.5,211.5 L792.0,212.1 L793.3,212.9 L794.2,213.8 L794.8,214.9 Z" fill="#6a6a6a"/><path d="M276.0,125.0 L304.0,125.0 L304.0,165.0 L276.0,165.0 Z" fill="#bdbdbd" stroke="#555" stroke-width="3" stroke-linejoin="round"/><path d="M284.0,129.0 L284.0,161.0" fill="none" stroke="#e4e4e4" stroke-width="5" stroke-linecap="round" stroke-linejoin="round"/><path d="M305.0,125.0 L304.6,127.2 L303.5,129.3 L301.7,131.2 L299.4,132.8 L296.5,134.0 L293.3,134.7 L290.0,135.0 L286.7,134.7 L283.5,134.0 L280.6,132.8 L278.3,131.2 L276.5,129.3 L275.4,127.2 L275.0,125.0 L275.4,122.8 L276.5,120.7 L278.3,118.8 L280.6,117.2 L283.5,116.0 L286.7,115.3 L290.0,115.0 L293.3,115.3 L296.5,116.0 L299.4,117.2 L301.7,118.8 L303.5,120.7 L304.6,122.8 Z" fill="#c9c9c9" stroke="#555" stroke-width="3" stroke-linejoin="round"/><path d="M298.0,126.0 L297.8,127.1 L297.2,128.2 L296.3,129.1 L295.0,129.9 L293.5,130.5 L291.8,130.9 L290.0,131.0 L288.2,130.9 L286.5,130.5 L285.0,129.9 L283.7,129.1 L282.8,128.2 L282.2,127.1 L282.0,126.0 L282.2,124.9 L282.8,123.8 L283.7,122.9 L285.0,122.1 L286.5,121.5 L288.2,121.1 L290.0,121.0 L291.8,121.1 L293.5,121.5 L295.0,122.1 L296.3,122.9 L297.2,123.8 L297.8,124.9 Z" fill="#6a6a6a"/><path d="M186.0,188.0 L214.0,188.0 L214.0,228.0 L186.0,228.0 Z" fill="#bdbdbd" stroke="#555" stroke-width="3" stroke-linejoin="round"/><path d="M194.0,192.0 L194.0,224.0" fill="none" stroke="#e4e4e4" stroke-width="5" stroke-linecap="round" stroke-linejoin="round"/><path d="M215.0,188.0 L214.6,190.2 L213.5,192.3 L211.7,194.2 L209.4,195.8 L206.5,197.0 L203.3,197.7 L200.0,198.0 L196.7,197.7 L193.5,197.0 L190.6,195.8 L188.3,194.2 L186.5,192.3 L185.4,190.2 L185.0,188.0 L185.4,185.8 L186.5,183.7 L188.3,181.8 L190.6,180.2 L193.5,179.0 L196.7,178.3 L200.0,178.0 L203.3,178.3 L206.5,179.0 L209.4,180.2 L211.7,181.8 L213.5,183.7 L214.6,185.8 Z" fill="#c9c9c9" stroke="#555" stroke-width="3" stroke-linejoin="round"/><path d="M208.0,189.0 L207.8,190.1 L207.2,191.2 L206.3,192.1 L205.0,192.9 L203.5,193.5 L201.8,193.9 L200.0,194.0 L198.2,193.9 L196.5,193.5 L195.0,192.9 L193.7,192.1 L192.8,191.2 L192.2,190.1 L192.0,189.0 L192.2,187.9 L192.8,186.8 L193.7,185.9 L195.0,185.1 L196.5,184.5 L198.2,184.1 L200.0,184.0 L201.8,184.1 L203.5,184.5 L205.0,185.1 L206.3,185.9 L207.2,186.8 L207.8,187.9 Z" fill="#6a6a6a"/><path d="M60.0,250.0 L90.0,228.0 L130.0,222.0 L150.0,250.0 L145.0,300.0 L120.0,318.0 L88.0,318.0 L65.0,300.0 Z" fill="#c4c4c4" stroke="#666" stroke-width="3" stroke-linejoin="round"/><path d="M85.0,240.0 L85.0,305.0" fill="none" stroke="#dcdcdc" stroke-width="8" stroke-linecap="round" stroke-linejoin="round"/><path d="M120.0,235.0 L125.0,305.0" fill="none" stroke="#8a8a8a" stroke-width="5" stroke-linecap="round" stroke-linejoin="round"/><path d="M88.0,345.0 L110.0,322.0 L150.0,295.0 L205.0,288.0 L245.0,312.0 L262.0,350.0 L262.0,420.0 L240.0,452.0 L195.0,460.0 L150.0,450.0 L122.0,420.0 L110.0,378.0 L90.0,362.0 Z" fill="#b8b8b8" stroke="#5e5e5e" stroke-width="3" stroke-linejoin="round"/><path d="M240.0,430.0 L270.0,402.0 L315.0,390.0 L365.0,398.0 L400.0,430.0 L415.0,480.0 L412.0,525.0 L390.0,550.0 L345.0,556.0 L300.0,545.0 L272.0,515.0 L260.0,475.0 L240.0,455.0 Z" fill="#b8b8b8" stroke="#5e5e5e" stroke-width="3" stroke-linejoin="round"/><path d="M231.0,375.0 L229.8,388.4 L226.4,401.0 L221.0,412.4 L213.7,421.9 L205.0,429.1 L195.2,433.5 L185.0,435.0 L174.8,433.5 L165.0,429.1 L156.3,421.9 L149.0,412.4 L143.6,401.0 L140.2,388.4 L139.0,375.0 L140.2,361.6 L143.6,349.0 L149.0,337.6 L156.3,328.1 L165.0,320.9 L174.8,316.5 L185.0,315.0 L195.2,316.5 L205.0,320.9 L213.7,328.1 L221.0,337.6 L226.4,349.0 L229.8,361.6 Z" fill="#e6e6e6" stroke="#6e6e6e" stroke-width="3" stroke-linejoin="round"/><path d="M384.0,478.0 L382.8,491.4 L379.4,504.0 L374.0,515.4 L366.7,524.9 L358.0,532.1 L348.2,536.5 L338.0,538.0 L327.8,536.5 L318.0,532.1 L309.3,524.9 L302.0,515.4 L296.6,504.0 L293.2,491.4 L292.0,478.0 L293.2,464.6 L296.6,452.0 L302.0,440.6 L309.3,431.1 L318.0,423.9 L327.8,419.5 L338.0,418.0 L348.2,419.5 L358.0,423.9 L366.7,431.1 L374.0,440.6 L379.4,452.0 L382.8,464.6 Z" fill="#e6e6e6" stroke="#6e6e6e" stroke-width="3" stroke-linejoin="round"/><path d="M194.0,385.0 L193.4,394.3 L191.8,403.2 L189.2,411.2 L185.7,417.8 L181.5,422.8 L176.9,425.9 L172.0,427.0 L167.1,425.9 L162.5,422.8 L158.3,417.8 L154.8,411.2 L152.2,403.2 L150.6,394.3 L150.0,385.0 L150.6,375.7 L152.2,366.8 L154.8,358.8 L158.3,352.2 L162.5,347.2 L167.1,344.1 L172.0,343.0 L176.9,344.1 L181.5,347.2 L185.7,352.2 L189.2,358.8 L191.8,366.8 L193.4,375.7 Z" fill="#c4c4c4"/><path d="M347.0,488.0 L346.4,497.3 L344.8,506.2 L342.2,514.2 L338.7,520.8 L334.5,525.8 L329.9,528.9 L325.0,530.0 L320.1,528.9 L315.5,525.8 L311.3,520.8 L307.8,514.2 L305.2,506.2 L303.6,497.3 L303.0,488.0 L303.6,478.7 L305.2,469.8 L307.8,461.8 L311.3,455.2 L315.5,450.2 L320.1,447.1 L325.0,446.0 L329.9,447.1 L334.5,450.2 L338.7,455.2 L342.2,461.8 L344.8,469.8 L346.4,478.7 Z" fill="#c4c4c4"/><path d="M172.0,390.0 L171.7,398.0 L171.0,405.6 L169.8,412.4 L168.2,418.1 L166.3,422.4 L164.2,425.1 L162.0,426.0 L159.8,425.1 L157.7,422.4 L155.8,418.1 L154.2,412.4 L153.0,405.6 L152.3,398.0 L152.0,390.0 L152.3,382.0 L153.0,374.4 L154.2,367.6 L155.8,361.9 L157.7,357.6 L159.8,354.9 L162.0,354.0 L164.2,354.9 L166.3,357.6 L168.2,361.9 L169.8,367.6 L171.0,374.4 L171.7,382.0 Z" fill="#f4f4f4"/><path d="M325.0,493.0 L324.7,501.0 L324.0,508.6 L322.8,515.4 L321.2,521.1 L319.3,525.4 L317.2,528.1 L315.0,529.0 L312.8,528.1 L310.7,525.4 L308.8,521.1 L307.2,515.4 L306.0,508.6 L305.3,501.0 L305.0,493.0 L305.3,485.0 L306.0,477.4 L307.2,470.6 L308.8,464.9 L310.7,460.6 L312.8,457.9 L315.0,457.0 L317.2,457.9 L319.3,460.6 L321.2,464.9 L322.8,470.6 L324.0,477.4 L324.7,485.0 Z" fill="#f4f4f4"/><path d="M217.0,333.0 L216.6,335.9 L215.6,338.6 L213.9,341.1 L211.7,343.2 L209.1,344.7 L206.1,345.7 L203.0,346.0 L199.9,345.7 L196.9,344.7 L194.3,343.2 L192.1,341.1 L190.4,338.6 L189.4,335.9 L189.0,333.0 L189.4,330.1 L190.4,327.4 L192.1,324.9 L194.3,322.8 L196.9,321.3 L199.9,320.3 L203.0,320.0 L206.1,320.3 L209.1,321.3 L211.7,322.8 L213.9,324.9 L215.6,327.4 L216.6,330.1 Z" fill="#585858"/><path d="M369.0,435.0 L368.6,437.9 L367.6,440.6 L365.9,443.1 L363.7,445.2 L361.1,446.7 L358.1,447.7 L355.0,448.0 L351.9,447.7 L348.9,446.7 L346.3,445.2 L344.1,443.1 L342.4,440.6 L341.4,437.9 L341.0,435.0 L341.4,432.1 L342.4,429.4 L344.1,426.9 L346.3,424.8 L348.9,423.3 L351.9,422.3 L355.0,422.0 L358.1,422.3 L361.1,423.3 L363.7,424.8 L365.9,426.9 L367.6,429.4 L368.6,432.1 Z" fill="#585858"/><path d="M109.0,345.0 L108.8,347.0 L108.1,348.9 L107.0,350.6 L105.6,352.0 L103.9,353.1 L102.0,353.8 L100.0,354.0 L98.0,353.8 L96.1,353.1 L94.4,352.0 L93.0,350.6 L91.9,348.9 L91.2,347.0 L91.0,345.0 L91.2,343.0 L91.9,341.1 L93.0,339.4 L94.4,338.0 L96.1,336.9 L98.0,336.2 L100.0,336.0 L102.0,336.2 L103.9,336.9 L105.6,338.0 L107.0,339.4 L108.1,341.1 L108.8,343.0 Z" fill="#e8e8e8" stroke="#5e5e5e" stroke-width="3" stroke-linejoin="round"/><path d="M264.0,428.0 L263.8,430.0 L263.1,431.9 L262.0,433.6 L260.6,435.0 L258.9,436.1 L257.0,436.8 L255.0,437.0 L253.0,436.8 L251.1,436.1 L249.4,435.0 L248.0,433.6 L246.9,431.9 L246.2,430.0 L246.0,428.0 L246.2,426.0 L246.9,424.1 L248.0,422.4 L249.4,421.0 L251.1,419.9 L253.0,419.2 L255.0,419.0 L257.0,419.2 L258.9,419.9 L260.6,421.0 L262.0,422.4 L263.1,424.1 L263.8,426.0 Z" fill="#e8e8e8" stroke="#5e5e5e" stroke-width="3" stroke-linejoin="round"/><path d="M414.0,522.0 L413.8,524.0 L413.1,525.9 L412.0,527.6 L410.6,529.0 L408.9,530.1 L407.0,530.8 L405.0,531.0 L403.0,530.8 L401.1,530.1 L399.4,529.0 L398.0,527.6 L396.9,525.9 L396.2,524.0 L396.0,522.0 L396.2,520.0 L396.9,518.1 L398.0,516.4 L399.4,515.0 L401.1,513.9 L403.0,513.2 L405.0,513.0 L407.0,513.2 L408.9,513.9 L410.6,515.0 L412.0,516.4 L413.1,518.1 L413.8,520.0 Z" fill="#e8e8e8" stroke="#5e5e5e" stroke-width="3" stroke-linejoin="round"/><path d="M205.0,470.0 L245.0,457.0 L262.0,495.0 L250.0,515.0 L210.0,510.0 Z" fill="#a6a6a6" stroke="#5e5e5e" stroke-width="3" stroke-linejoin="round"/><path d="M241.0,490.0 L240.8,492.4 L240.1,494.8 L239.0,496.9 L237.6,498.6 L235.9,499.9 L234.0,500.7 L232.0,501.0 L230.0,500.7 L228.1,499.9 L226.4,498.6 L225.0,496.9 L223.9,494.8 L223.2,492.4 L223.0,490.0 L223.2,487.6 L223.9,485.2 L225.0,483.1 L226.4,481.4 L228.1,480.1 L230.0,479.3 L232.0,479.0 L234.0,479.3 L235.9,480.1 L237.6,481.4 L239.0,483.1 L240.1,485.2 L240.8,487.6 Z" fill="#f0f0f0"/><path d="M425.0,650.0 L495.0,615.0 L548.0,640.0 L556.0,700.0 L520.0,735.0 L465.0,750.0 L440.0,735.0 Z" fill="#d2d2d2" stroke="#666" stroke-width="3" stroke-linejoin="round"/><path d="M500.0,630.0 L540.0,700.0" fill="none" stroke="#f0f0f0" stroke-width="10" stroke-linecap="round" stroke-linejoin="round"/><path d="M490.0,690.0 L489.3,697.6 L487.2,704.8 L483.9,711.2 L479.5,716.6 L474.1,720.6 L468.2,723.1 L462.0,724.0 L455.8,723.1 L449.9,720.6 L444.5,716.6 L440.1,711.2 L436.8,704.8 L434.7,697.6 L434.0,690.0 L434.7,682.4 L436.8,675.2 L440.1,668.8 L444.5,663.4 L449.9,659.4 L455.8,656.9 L462.0,656.0 L468.2,656.9 L474.1,659.4 L479.5,663.4 L483.9,668.8 L487.2,675.2 L489.3,682.4 Z" fill="#f4f4f4" stroke="#555" stroke-width="4" stroke-linejoin="round"/><path d="M464.0,740.0 L463.8,741.6 L463.1,743.0 L462.0,744.4 L460.6,745.5 L458.9,746.3 L457.0,746.8 L455.0,747.0 L453.0,746.8 L451.1,746.3 L449.4,745.5 L448.0,744.4 L446.9,743.0 L446.2,741.6 L446.0,740.0 L446.2,738.4 L446.9,737.0 L448.0,735.6 L449.4,734.5 L451.1,733.7 L453.0,733.2 L455.0,733.0 L457.0,733.2 L458.9,733.7 L460.6,734.5 L462.0,735.6 L463.1,737.0 L463.8,738.4 Z" fill="#777"/><path d="M550,426 L470,640" stroke="#2f9ee6" stroke-width="9"/><path d="M452,664 L456,612 L497,630 Z" fill="#2f9ee6"/><ellipse cx="552" cy="421" rx="8" ry="7" fill="#333"/><path d="M680.0,458.0 L593.8,432.5" stroke="#d8232a" stroke-width="8"/><path d="M565.0,424.0 L602.4,417.3 L592.8,449.9 Z" fill="#d8232a"/><path d="M328.0,664.0 L412.0,662.5" stroke="#d8232a" stroke-width="8"/><path d="M442.0,662.0 L408.3,679.6 L407.7,645.6 Z" fill="#d8232a"/><rect x="678" y="442" width="44" height="46" fill="#fff" stroke="#9a9a9a" stroke-width="3"/><text x="700.0" y="479" font-family="Liberation Sans" font-size="38" font-weight="bold" text-anchor="middle" fill="#222">1</text><rect x="280" y="645" width="48" height="44" fill="#fff" stroke="#9a9a9a" stroke-width="3"/><text x="304.0" y="680" font-family="Liberation Sans" font-size="38" font-weight="bold" text-anchor="middle" fill="#222">2</text></svg>
<div class="fr" style="top:53px;height:229px"></div>
<svg class="im" style="top:300px" width="300" height="225" viewBox="0 0 1024 768"><path d="M125.0,230.0 L429.9,19.7 L464.4,20.4 L522.4,32.6 L551.8,68.6 L626.9,124.9 L672.8,152.1 L702.1,206.2 L764.4,221.6 L785.7,263.1 L887.7,293.3 L905.0,315.2 L937.3,319.1 L956.5,334.8 L954.1,360.2 L931.1,380.6 L909.5,389.2 L879.7,493.6 L878.7,548.0 L864.9,605.5 L813.8,631.3 L727.6,690.7 L716.8,702.7 L636.5,724.4 L598.5,727.6 L562.3,741.6 L516.4,751.1 L491.4,739.0 L470.3,689.5 L459.9,648.8 L440.5,606.9 L427.8,577.3 L378.9,573.9 L337.4,560.2 L305.6,530.5 L275.2,484.1 L235.4,489.5 L194.3,481.5 L166.7,455.4 L143.9,421.6 L130.1,386.8 L106.9,351.2 L98.9,305.1 L123.2,284.2 Z" fill="#b9b9b9" stroke="#666" stroke-width="3" stroke-linejoin="round"/><path d="M415.6,460.1 L526.0,531.0 L543.2,561.8 L567.1,620.7 L547.2,644.1 L498.4,631.9 L455.3,584.9 L431.3,531.5 Z" fill="#d9d9d9"/><path d="M526.0,531.0 L888.0,295.0 L905.0,315.2 L909.5,389.2 L879.7,493.6 L878.7,548.0 L864.9,605.5 L813.8,631.3 L727.6,690.7 L716.8,702.7 L636.5,724.4 L598.5,727.6 L582.5,696.7 L567.1,620.7 L543.2,561.8 Z" fill="#979797"/><path d="M595.8,536.0 L640.2,637.1" fill="none" stroke="#c6c6c6" stroke-width="7" stroke-linecap="round" stroke-linejoin="round"/><path d="M608.7,535.8 L652.4,633.4" fill="none" stroke="#8a8a8a" stroke-width="4" stroke-linecap="round" stroke-linejoin="round"/><path d="M622.4,551.2 L703.8,568.5 L721.6,644.9" fill="none" stroke="#c2c2c2" stroke-width="6" stroke-linecap="round" stroke-linejoin="round"/><path d="M705.1,537.6 L721.6,644.9" fill="none" stroke="#8c8c8c" stroke-width="4" stroke-linecap="round" stroke-linejoin="round"/><path d="M846.2,371.7 L836.7,503.7" fill="none" stroke="#c4c4c4" stroke-width="7" stroke-linecap="round" stroke-linejoin="round"/><path d="M887.6,352.8 L879.0,484.8" fill="none" stroke="#c8c8c8" stroke-width="6" stroke-linecap="round" stroke-linejoin="round"/><path d="M836.0,380.9 L829.9,503.5" fill="none" stroke="#8a8a8a" stroke-width="4" stroke-linecap="round" stroke-linejoin="round"/><path d="M644.8,500.8 L773.6,422.3 L844.8,374.5" fill="none" stroke="#959595" stroke-width="5" stroke-linecap="round" stroke-linejoin="round"/><path d="M480.1,480.0 L567.3,517.6 L653.3,485.3 L808.7,380.8 L889.0,299.0" fill="none" stroke="#e6e6e6" stroke-width="7" stroke-linecap="round" stroke-linejoin="round"/><path d="M490.3,496.3 L568.3,528.1" fill="none" stroke="#666" stroke-width="3" stroke-linecap="round" stroke-linejoin="round"/><path d="M780.3,569.1 L832.5,538.6 L863.5,540.5 L869.0,598.3 L813.1,626.0 L786.2,621.4 Z" fill="#c8c8c8" stroke="#6a6a6a" stroke-width="3" stroke-linejoin="round"/><path d="M780.3,569.1 L832.5,538.6 L863.5,540.5 L844.0,563.0 L798.6,582.6 Z" fill="#e4e4e4"/><path d="M847.4,567.6 L847.2,569.1 L846.6,570.6 L845.5,572.0 L843.9,573.4 L842.0,574.6 L839.9,575.5 L837.6,576.2 L835.3,576.6 L833.1,576.6 L831.1,576.3 L829.4,575.7 L828.0,574.8 L827.2,573.7 L826.8,572.4 L826.9,570.9 L827.5,569.4 L828.6,568.0 L830.2,566.6 L832.0,565.4 L834.2,564.5 L836.4,563.8 L838.8,563.4 L841.0,563.4 L843.0,563.7 L844.7,564.3 L846.1,565.2 L847.0,566.3 Z" fill="#6a6a6a"/><path d="M630.8,670.4 L683.3,644.3 L713.7,642.3 L720.2,692.0 L673.5,713.6 L639.4,709.6 Z" fill="#c8c8c8" stroke="#6a6a6a" stroke-width="3" stroke-linejoin="round"/><path d="M630.8,670.4 L683.3,644.3 L713.7,642.3 L696.2,667.0 L645.3,683.1 Z" fill="#e4e4e4"/><path d="M699.2,668.1 L699.2,669.5 L698.6,670.8 L697.5,672.1 L696.0,673.3 L694.1,674.3 L692.0,675.1 L689.8,675.7 L687.5,675.9 L685.2,675.9 L683.2,675.5 L681.4,674.9 L680.0,674.0 L679.1,673.0 L678.6,671.8 L678.7,670.4 L679.3,669.1 L680.4,667.8 L681.9,666.7 L683.8,665.7 L685.9,664.9 L688.2,664.3 L690.5,664.0 L692.7,664.1 L694.8,664.4 L696.5,665.0 L697.9,665.8 L698.8,666.9 Z" fill="#6a6a6a"/><path d="M765.8,506.2 L765.7,514.0 L763.9,521.9 L760.5,529.4 L755.7,536.3 L749.7,542.1 L742.9,546.5 L735.5,549.4 L727.9,550.5 L720.5,549.9 L713.6,547.7 L707.6,543.8 L702.8,538.6 L699.5,532.2 L697.8,524.9 L697.9,517.2 L699.6,509.4 L703.1,501.9 L707.9,495.0 L714.0,489.1 L721.0,484.6 L728.5,481.6 L736.2,480.4 L743.6,480.9 L750.5,483.1 L756.4,487.0 L761.0,492.3 L764.2,498.8 Z" fill="#c6c6c6" stroke="#686868" stroke-width="3" stroke-linejoin="round"/><path d="M755.7,510.5 L755.6,515.0 L754.7,519.5 L753.0,523.8 L750.5,527.6 L747.3,530.9 L743.7,533.3 L739.8,534.9 L735.8,535.5 L731.9,535.0 L728.2,533.6 L725.1,531.3 L722.5,528.2 L720.8,524.4 L719.9,520.2 L719.9,515.8 L720.8,511.3 L722.5,507.0 L725.1,503.2 L728.2,499.9 L731.9,497.5 L735.8,495.9 L739.9,495.3 L743.8,495.7 L747.4,497.1 L750.6,499.4 L753.1,502.5 L754.8,506.3 Z" fill="#8c8c8c" stroke="#666" stroke-width="2" stroke-linejoin="round"/><path d="M749.6,507.7 L749.6,509.4 L749.2,511.2 L748.5,512.9 L747.4,514.4 L746.0,515.7 L744.5,516.7 L742.9,517.3 L741.2,517.6 L739.5,517.4 L738.0,516.9 L736.7,516.0 L735.7,514.8 L734.9,513.3 L734.6,511.7 L734.6,510.0 L735.0,508.2 L735.7,506.5 L736.8,505.0 L738.1,503.7 L739.7,502.8 L741.3,502.1 L743.0,501.9 L744.7,502.0 L746.2,502.5 L747.5,503.4 L748.5,504.6 L749.3,506.1 Z" fill="#e8e8e8"/><path d="M954.7,339.3 L955.2,344.6 L954.2,350.1 L951.8,355.3 L948.1,360.1 L943.3,364.1 L937.7,367.2 L931.5,369.2 L925.0,370.1 L918.7,369.7 L912.7,368.2 L907.4,365.5 L903.0,361.9 L899.8,357.5 L897.9,352.5 L897.3,347.3 L898.1,342.0 L900.3,336.9 L903.8,332.3 L908.4,328.3 L914.0,325.2 L920.2,323.1 L926.7,322.1 L933.2,322.3 L939.4,323.7 L944.9,326.3 L949.4,329.8 L952.8,334.2 Z" fill="#c2c2c2" stroke="#666" stroke-width="3" stroke-linejoin="round"/><path d="M942.2,343.4 L942.5,345.7 L942.1,348.0 L941.2,350.2 L939.8,352.3 L937.9,353.9 L935.7,355.2 L933.2,356.1 L930.7,356.4 L928.1,356.1 L925.7,355.4 L923.6,354.2 L921.8,352.6 L920.5,350.6 L919.7,348.5 L919.4,346.2 L919.7,343.9 L920.6,341.7 L922.0,339.7 L923.8,338.0 L926.0,336.8 L928.5,335.9 L931.0,335.6 L933.6,335.8 L936.1,336.5 L938.3,337.6 L940.1,339.2 L941.4,341.2 Z" fill="#7e7e7e"/><path d="M138.2,235.9 L430.5,36.4 L876.8,295.6 L525.1,519.4 Z" fill="#a6a6a6"/><path d="M162.7,247.7 L253.4,205.0 L333.8,258.2 L272.4,302.1 Z" fill="#d2d2d2"/><path d="M308.1,290.6 L382.3,253.8 L462.7,305.1 L426.3,347.6 L360.2,346.6 Z" fill="#dcdcdc"/><path d="M430.0,215.7 L517.3,187.0 L594.1,231.2 L558.0,279.5 L471.5,282.6 Z" fill="#e2e2e2"/><path d="M344.1,374.2 L426.3,347.6 L485.7,401.3 L450.2,438.1 L394.3,421.9 Z" fill="#d8d8d8"/><path d="M597.2,321.6 L669.6,280.4 L725.8,313.6 L683.0,360.9 L627.3,371.1 Z" fill="#d6d6d6"/><path d="M553.4,114.0 L625.9,101.6 L682.5,168.6 L630.0,205.9 L583.0,173.1 Z" fill="#cfcfcf"/><path d="M421.6,202.3 L421.0,206.8 L418.8,211.2 L415.1,215.3 L410.2,218.9 L404.3,221.8 L397.7,223.9 L390.7,225.1 L383.6,225.3 L376.9,224.7 L370.8,223.1 L365.6,220.7 L361.7,217.6 L359.1,213.9 L358.1,209.8 L358.7,205.4 L360.8,201.0 L364.4,196.8 L369.4,193.0 L375.3,189.8 L382.0,187.4 L389.1,185.9 L396.2,185.5 L403.0,186.1 L409.1,187.8 L414.3,190.4 L418.2,193.9 L420.7,197.9 Z" fill="#7c7c7c" stroke="#555" stroke-width="2" stroke-linejoin="round"/><path d="M493.4,235.6 L493.0,238.8 L491.5,241.8 L489.0,244.6 L485.7,246.9 L481.7,248.7 L477.2,249.9 L472.4,250.5 L467.6,250.3 L463.1,249.5 L458.9,248.1 L455.5,246.0 L452.8,243.5 L451.1,240.7 L450.5,237.6 L450.9,234.5 L452.4,231.5 L454.9,228.6 L458.3,226.2 L462.3,224.3 L466.8,223.0 L471.6,222.4 L476.4,222.6 L481.0,223.4 L485.1,224.9 L488.5,227.0 L491.1,229.6 L492.8,232.5 Z" fill="#777" stroke="#555" stroke-width="2" stroke-linejoin="round"/><path d="M529.0,266.9 L528.7,269.8 L527.5,272.5 L525.5,275.0 L522.8,277.1 L519.6,278.7 L515.9,279.8 L512.1,280.2 L508.2,280.1 L504.5,279.2 L501.2,277.8 L498.4,275.9 L496.2,273.6 L494.9,271.0 L494.3,268.2 L494.7,265.3 L495.9,262.6 L497.9,260.1 L500.6,258.0 L503.9,256.4 L507.5,255.3 L511.4,254.8 L515.2,255.0 L518.9,255.8 L522.2,257.2 L525.0,259.1 L527.1,261.5 L528.5,264.1 Z" fill="#808080"/><path d="M572.4,312.6 L571.9,316.4 L570.2,320.1 L567.4,323.5 L563.5,326.4 L558.9,328.7 L553.7,330.2 L548.2,330.9 L542.7,330.7 L537.4,329.7 L532.6,327.9 L528.6,325.4 L525.5,322.3 L523.6,318.8 L522.8,315.1 L523.3,311.3 L525.0,307.7 L527.9,304.4 L531.8,301.6 L536.4,299.3 L541.6,297.9 L547.1,297.2 L552.7,297.3 L557.9,298.3 L562.7,300.0 L566.6,302.5 L569.7,305.5 L571.6,308.9 Z" fill="#8a8a8a"/><path d="M352.8,315.8 L352.4,319.5 L350.7,323.0 L347.6,326.2 L343.3,328.9 L338.2,331.0 L332.4,332.3 L326.2,332.9 L320.0,332.6 L314.1,331.6 L308.6,329.9 L304.0,327.5 L300.4,324.7 L298.0,321.4 L297.0,317.9 L297.3,314.3 L299.0,310.9 L302.0,307.7 L306.1,304.9 L311.2,302.7 L317.0,301.2 L323.2,300.4 L329.5,300.5 L335.5,301.4 L341.1,303.1 L345.8,305.6 L349.4,308.6 L351.8,312.1 Z" fill="#888"/><path d="M655.3,265.7 L654.9,270.7 L653.4,275.5 L650.9,279.9 L647.4,283.8 L643.2,286.9 L638.4,289.0 L633.3,290.2 L628.1,290.2 L623.2,289.1 L618.7,286.9 L614.9,283.7 L612.0,279.7 L610.1,275.1 L609.4,270.2 L609.8,265.1 L611.3,260.2 L613.9,255.7 L617.4,251.8 L621.7,248.7 L626.5,246.7 L631.5,245.7 L636.7,245.8 L641.5,247.1 L646.0,249.3 L649.7,252.5 L652.6,256.4 L654.5,260.9 Z" fill="#8d8d8d"/><path d="M481.0,380.4 L480.6,383.9 L478.9,387.1 L476.1,389.9 L472.3,392.2 L467.7,393.8 L462.5,394.6 L457.1,394.7 L451.6,393.9 L446.4,392.5 L441.7,390.4 L437.7,387.7 L434.6,384.7 L432.6,381.5 L431.8,378.1 L432.2,374.8 L433.8,371.7 L436.6,369.0 L440.4,366.7 L445.0,365.1 L450.1,364.1 L455.6,363.9 L461.1,364.5 L466.4,365.8 L471.2,367.9 L475.2,370.5 L478.3,373.5 L480.3,376.9 Z" fill="#8e8e8e"/><path d="M147.6,247.6 L434.0,53.3" fill="none" stroke="#d6d6d6" stroke-width="14" stroke-linecap="round" stroke-linejoin="round"/><path d="M150.9,257.3 L509.3,506.7" fill="none" stroke="#939393" stroke-width="12" stroke-linecap="round" stroke-linejoin="round"/><path d="M480.1,480.0 L525.5,453.4 L692.1,359.1 L830.4,296.5 L866.5,299.2 L528.8,519.4 Z" fill="#8f8f8f"/><path d="M125.0,230.0 L430.0,22.0 L888.0,295.0 L526.0,531.0 Z" fill="none" stroke="#5a5a5a" stroke-width="19" stroke-linecap="round" stroke-linejoin="round"/><path d="M125.0,230.0 L430.0,22.0 L888.0,295.0 L526.0,531.0 Z" fill="none" stroke="#f2f2f2" stroke-width="12" stroke-linecap="round" stroke-linejoin="round"/><path d="M500.0,60.0 L765.0,232.0" fill="none" stroke="#666" stroke-width="56" stroke-linecap="round" stroke-linejoin="round"/><path d="M500.0,60.0 L765.0,232.0" fill="none" stroke="#d2d2d2" stroke-width="49" stroke-linecap="round" stroke-linejoin="round"/><path d="M503.9,39.5 L772.5,213.4" fill="none" stroke="#efefef" stroke-width="12" stroke-linecap="round" stroke-linejoin="round"/><path d="M553.7,126.0 L721.2,233.7" fill="none" stroke="#9c9c9c" stroke-width="9" stroke-linecap="round" stroke-linejoin="round"/><path d="M552.2,78.1 L599.1,107.7 L586.6,143.4 L539.4,114.2 Z" fill="#e8e8e8"/><path d="M706.8,265.1 L765.8,245.4 L785.9,265.0 L793.2,339.0 L757.7,366.2 L713.0,364.6 Z" fill="#a8a8a8" stroke="#5c5c5c" stroke-width="3" stroke-linejoin="round"/><path d="M761.8,324.7 L761.8,330.6 L760.9,336.3 L759.0,341.5 L756.3,346.2 L752.9,350.0 L748.8,352.7 L744.5,354.3 L740.0,354.5 L735.6,353.5 L731.6,351.2 L728.1,347.6 L725.3,343.1 L723.4,337.7 L722.5,331.8 L722.6,325.7 L723.7,319.7 L725.6,314.1 L728.5,309.3 L732.0,305.4 L735.9,302.7 L740.2,301.3 L744.6,301.3 L748.8,302.7 L752.7,305.3 L756.1,309.0 L758.9,313.7 L760.8,319.0 Z" fill="#f6f6f6" stroke="#5c5c5c" stroke-width="3" stroke-linejoin="round"/><path d="M262.0,172.0 L578.0,365.0" fill="none" stroke="#666" stroke-width="36" stroke-linecap="round" stroke-linejoin="round"/><path d="M262.0,172.0 L578.0,365.0" fill="none" stroke="#d8d8d8" stroke-width="29" stroke-linecap="round" stroke-linejoin="round"/><path d="M267.1,159.9 L584.2,353.6" fill="none" stroke="#f4f4f4" stroke-width="8" stroke-linecap="round" stroke-linejoin="round"/><path d="M296.3,166.1 L295.8,171.7 L293.9,177.3 L290.8,182.5 L286.4,187.1 L281.2,190.8 L275.4,193.4 L269.2,194.9 L263.0,195.0 L257.1,194.0 L251.7,191.7 L247.2,188.4 L243.7,184.3 L241.4,179.4 L240.4,174.2 L240.8,168.8 L242.5,163.5 L245.5,158.5 L249.6,154.1 L254.7,150.4 L260.5,147.8 L266.7,146.1 L273.0,145.7 L279.1,146.5 L284.6,148.5 L289.3,151.7 L293.0,155.8 L295.3,160.7 Z" fill="#c8c8c8" stroke="#5c5c5c" stroke-width="3" stroke-linejoin="round"/><path d="M593.1,363.4 L592.8,366.7 L591.8,370.0 L590.1,373.0 L587.8,375.6 L585.0,377.7 L581.8,379.1 L578.5,379.8 L575.1,379.8 L571.8,379.0 L568.9,377.5 L566.4,375.3 L564.5,372.6 L563.3,369.6 L562.8,366.2 L563.1,362.9 L564.1,359.6 L565.8,356.6 L568.1,354.0 L570.9,351.9 L574.1,350.6 L577.5,349.9 L580.9,350.0 L584.1,350.8 L587.0,352.3 L589.5,354.4 L591.4,357.1 L592.6,360.1 Z" fill="#bbb" stroke="#5c5c5c" stroke-width="3" stroke-linejoin="round"/><path d="M495.0,396.5 L546.9,380.0 L590.8,407.4 L602.9,464.8 L565.7,494.8 L507.9,482.7 Z" fill="#ababab" stroke="#5c5c5c" stroke-width="3" stroke-linejoin="round"/><path d="M592.3,445.4 L592.0,450.9 L590.7,456.2 L588.4,461.2 L585.2,465.6 L581.4,469.1 L577.0,471.5 L572.3,472.8 L567.6,472.8 L563.0,471.6 L558.9,469.1 L555.4,465.5 L552.7,461.0 L550.9,455.9 L550.2,450.3 L550.5,444.7 L551.8,439.2 L554.2,434.3 L557.4,430.0 L561.3,426.6 L565.6,424.3 L570.3,423.2 L575.0,423.3 L579.5,424.7 L583.6,427.1 L587.1,430.6 L589.7,435.0 L591.5,440.0 Z" fill="#f2f2f2" stroke="#5c5c5c" stroke-width="3" stroke-linejoin="round"/><path d="M491.0,58.0 L519.0,58.0 L519.0,93.0 L491.0,93.0 Z" fill="#bdbdbd" stroke="#555" stroke-width="3" stroke-linejoin="round"/><path d="M499.0,62.0 L499.0,89.0" fill="none" stroke="#e4e4e4" stroke-width="5" stroke-linecap="round" stroke-linejoin="round"/><path d="M521.0,58.0 L520.6,60.7 L519.4,63.2 L517.5,65.5 L515.0,67.4 L511.9,68.8 L508.6,69.7 L505.0,70.0 L501.4,69.7 L498.1,68.8 L495.0,67.4 L492.5,65.5 L490.6,63.2 L489.4,60.7 L489.0,58.0 L489.4,55.3 L490.6,52.8 L492.5,50.5 L495.0,48.6 L498.1,47.2 L501.4,46.3 L505.0,46.0 L508.6,46.3 L511.9,47.2 L515.0,48.6 L517.5,50.5 L519.4,52.8 L520.6,55.3 Z" fill="#2e2e2e" stroke="#151515" stroke-width="3" stroke-linejoin="round"/><path d="M508.0,56.0 L507.8,56.9 L507.4,57.7 L506.7,58.5 L505.7,59.1 L504.6,59.6 L503.3,59.9 L502.0,60.0 L500.7,59.9 L499.4,59.6 L498.3,59.1 L497.3,58.5 L496.6,57.7 L496.2,56.9 L496.0,56.0 L496.2,55.1 L496.6,54.3 L497.3,53.5 L498.3,52.9 L499.4,52.4 L500.7,52.1 L502.0,52.0 L503.3,52.1 L504.6,52.4 L505.7,52.9 L506.7,53.5 L507.4,54.3 L507.8,55.1 Z" fill="#777"/><path d="M638.0,160.0 L666.0,160.0 L666.0,205.0 L638.0,205.0 Z" fill="#bdbdbd" stroke="#555" stroke-width="3" stroke-linejoin="round"/><path d="M646.0,164.0 L646.0,201.0" fill="none" stroke="#e4e4e4" stroke-width="5" stroke-linecap="round" stroke-linejoin="round"/><path d="M668.0,160.0 L667.6,162.7 L666.4,165.2 L664.5,167.5 L662.0,169.4 L658.9,170.8 L655.6,171.7 L652.0,172.0 L648.4,171.7 L645.1,170.8 L642.0,169.4 L639.5,167.5 L637.6,165.2 L636.4,162.7 L636.0,160.0 L636.4,157.3 L637.6,154.8 L639.5,152.5 L642.0,150.6 L645.1,149.2 L648.4,148.3 L652.0,148.0 L655.6,148.3 L658.9,149.2 L662.0,150.6 L664.5,152.5 L666.4,154.8 L667.6,157.3 Z" fill="#2e2e2e" stroke="#151515" stroke-width="3" stroke-linejoin="round"/><path d="M655.0,158.0 L654.8,158.9 L654.4,159.7 L653.7,160.5 L652.7,161.1 L651.6,161.6 L650.3,161.9 L649.0,162.0 L647.7,161.9 L646.4,161.6 L645.3,161.1 L644.3,160.5 L643.6,159.7 L643.2,158.9 L643.0,158.0 L643.2,157.1 L643.6,156.3 L644.3,155.5 L645.3,154.9 L646.4,154.4 L647.7,154.1 L649.0,154.0 L650.3,154.1 L651.6,154.4 L652.7,154.9 L653.7,155.5 L654.4,156.3 L654.8,157.1 Z" fill="#777"/><path d="M741.0,228.0 L769.0,228.0 L769.0,268.0 L741.0,268.0 Z" fill="#bdbdbd" stroke="#555" stroke-width="3" stroke-linejoin="round"/><path d="M749.0,232.0 L749.0,264.0" fill="none" stroke="#e4e4e4" stroke-width="5" stroke-linecap="round" stroke-linejoin="round"/><path d="M771.0,228.0 L770.6,230.7 L769.4,233.2 L767.5,235.5 L765.0,237.4 L761.9,238.8 L758.6,239.7 L755.0,240.0 L751.4,239.7 L748.1,238.8 L745.0,237.4 L742.5,235.5 L740.6,233.2 L739.4,230.7 L739.0,228.0 L739.4,225.3 L740.6,222.8 L742.5,220.5 L745.0,218.6 L748.1,217.2 L751.4,216.3 L755.0,216.0 L758.6,216.3 L761.9,217.2 L765.0,218.6 L767.5,220.5 L769.4,222.8 L770.6,225.3 Z" fill="#2e2e2e" stroke="#151515" stroke-width="3" stroke-linejoin="round"/><path d="M758.0,226.0 L757.8,226.9 L757.4,227.7 L756.7,228.5 L755.7,229.1 L754.6,229.6 L753.3,229.9 L752.0,230.0 L750.7,229.9 L749.4,229.6 L748.3,229.1 L747.3,228.5 L746.6,227.7 L746.2,226.9 L746.0,226.0 L746.2,225.1 L746.6,224.3 L747.3,223.5 L748.3,222.9 L749.4,222.4 L750.7,222.1 L752.0,222.0 L753.3,222.1 L754.6,222.4 L755.7,222.9 L756.7,223.5 L757.4,224.3 L757.8,225.1 Z" fill="#777"/><path d="M563.0,210.0 L591.0,210.0 L591.0,270.0 L563.0,270.0 Z" fill="#bdbdbd" stroke="#555" stroke-width="3" stroke-linejoin="round"/><path d="M571.0,214.0 L571.0,266.0" fill="none" stroke="#e4e4e4" stroke-width="5" stroke-linecap="round" stroke-linejoin="round"/><path d="M593.0,210.0 L592.6,212.7 L591.4,215.2 L589.5,217.5 L587.0,219.4 L583.9,220.8 L580.6,221.7 L577.0,222.0 L573.4,221.7 L570.1,220.8 L567.0,219.4 L564.5,217.5 L562.6,215.2 L561.4,212.7 L561.0,210.0 L561.4,207.3 L562.6,204.8 L564.5,202.5 L567.0,200.6 L570.1,199.2 L573.4,198.3 L577.0,198.0 L580.6,198.3 L583.9,199.2 L587.0,200.6 L589.5,202.5 L591.4,204.8 L592.6,207.3 Z" fill="#2e2e2e" stroke="#151515" stroke-width="3" stroke-linejoin="round"/><path d="M580.0,208.0 L579.8,208.9 L579.4,209.7 L578.7,210.5 L577.7,211.1 L576.6,211.6 L575.3,211.9 L574.0,212.0 L572.7,211.9 L571.4,211.6 L570.3,211.1 L569.3,210.5 L568.6,209.7 L568.2,208.9 L568.0,208.0 L568.2,207.1 L568.6,206.3 L569.3,205.5 L570.3,204.9 L571.4,204.4 L572.7,204.1 L574.0,204.0 L575.3,204.1 L576.6,204.4 L577.7,204.9 L578.7,205.5 L579.4,206.3 L579.8,207.1 Z" fill="#777"/><path d="M658.0,238.0 L686.0,238.0 L686.0,298.0 L658.0,298.0 Z" fill="#bdbdbd" stroke="#555" stroke-width="3" stroke-linejoin="round"/><path d="M666.0,242.0 L666.0,294.0" fill="none" stroke="#e4e4e4" stroke-width="5" stroke-linecap="round" stroke-linejoin="round"/><path d="M688.0,238.0 L687.6,240.7 L686.4,243.2 L684.5,245.5 L682.0,247.4 L678.9,248.8 L675.6,249.7 L672.0,250.0 L668.4,249.7 L665.1,248.8 L662.0,247.4 L659.5,245.5 L657.6,243.2 L656.4,240.7 L656.0,238.0 L656.4,235.3 L657.6,232.8 L659.5,230.5 L662.0,228.6 L665.1,227.2 L668.4,226.3 L672.0,226.0 L675.6,226.3 L678.9,227.2 L682.0,228.6 L684.5,230.5 L686.4,232.8 L687.6,235.3 Z" fill="#2e2e2e" stroke="#151515" stroke-width="3" stroke-linejoin="round"/><path d="M675.0,236.0 L674.8,236.9 L674.4,237.7 L673.7,238.5 L672.7,239.1 L671.6,239.6 L670.3,239.9 L669.0,240.0 L667.7,239.9 L666.4,239.6 L665.3,239.1 L664.3,238.5 L663.6,237.7 L663.2,236.9 L663.0,236.0 L663.2,235.1 L663.6,234.3 L664.3,233.5 L665.3,232.9 L666.4,232.4 L667.7,232.1 L669.0,232.0 L670.3,232.1 L671.6,232.4 L672.7,232.9 L673.7,233.5 L674.4,234.3 L674.8,235.1 Z" fill="#777"/><path d="M562.0,308.0 L590.0,308.0 L590.0,358.0 L562.0,358.0 Z" fill="#bdbdbd" stroke="#555" stroke-width="3" stroke-linejoin="round"/><path d="M570.0,312.0 L570.0,354.0" fill="none" stroke="#e4e4e4" stroke-width="5" stroke-linecap="round" stroke-linejoin="round"/><path d="M592.0,308.0 L591.6,310.7 L590.4,313.2 L588.5,315.5 L586.0,317.4 L582.9,318.8 L579.6,319.7 L576.0,320.0 L572.4,319.7 L569.1,318.8 L566.0,317.4 L563.5,315.5 L561.6,313.2 L560.4,310.7 L560.0,308.0 L560.4,305.3 L561.6,302.8 L563.5,300.5 L566.0,298.6 L569.1,297.2 L572.4,296.3 L576.0,296.0 L579.6,296.3 L582.9,297.2 L586.0,298.6 L588.5,300.5 L590.4,302.8 L591.6,305.3 Z" fill="#2e2e2e" stroke="#151515" stroke-width="3" stroke-linejoin="round"/><path d="M579.0,306.0 L578.8,306.9 L578.4,307.7 L577.7,308.5 L576.7,309.1 L575.6,309.6 L574.3,309.9 L573.0,310.0 L571.7,309.9 L570.4,309.6 L569.3,309.1 L568.3,308.5 L567.6,307.7 L567.2,306.9 L567.0,306.0 L567.2,305.1 L567.6,304.3 L568.3,303.5 L569.3,302.9 L570.4,302.4 L571.7,302.1 L573.0,302.0 L574.3,302.1 L575.6,302.4 L576.7,302.9 L577.7,303.5 L578.4,304.3 L578.8,305.1 Z" fill="#777"/><path d="M316.0,175.0 L344.0,175.0 L344.0,220.0 L316.0,220.0 Z" fill="#bdbdbd" stroke="#555" stroke-width="3" stroke-linejoin="round"/><path d="M324.0,179.0 L324.0,216.0" fill="none" stroke="#e4e4e4" stroke-width="5" stroke-linecap="round" stroke-linejoin="round"/><path d="M346.0,175.0 L345.6,177.7 L344.4,180.2 L342.5,182.5 L340.0,184.4 L336.9,185.8 L333.6,186.7 L330.0,187.0 L326.4,186.7 L323.1,185.8 L320.0,184.4 L317.5,182.5 L315.6,180.2 L314.4,177.7 L314.0,175.0 L314.4,172.3 L315.6,169.8 L317.5,167.5 L320.0,165.6 L323.1,164.2 L326.4,163.3 L330.0,163.0 L333.6,163.3 L336.9,164.2 L340.0,165.6 L342.5,167.5 L344.4,169.8 L345.6,172.3 Z" fill="#2e2e2e" stroke="#151515" stroke-width="3" stroke-linejoin="round"/><path d="M333.0,173.0 L332.8,173.9 L332.4,174.7 L331.7,175.5 L330.7,176.1 L329.6,176.6 L328.3,176.9 L327.0,177.0 L325.7,176.9 L324.4,176.6 L323.3,176.1 L322.3,175.5 L321.6,174.7 L321.2,173.9 L321.0,173.0 L321.2,172.1 L321.6,171.3 L322.3,170.5 L323.3,169.9 L324.4,169.4 L325.7,169.1 L327.0,169.0 L328.3,169.1 L329.6,169.4 L330.7,169.9 L331.7,170.5 L332.4,171.3 L332.8,172.1 Z" fill="#777"/><path d="M246.0,225.0 L274.0,225.0 L274.0,275.0 L246.0,275.0 Z" fill="#bdbdbd" stroke="#555" stroke-width="3" stroke-linejoin="round"/><path d="M254.0,229.0 L254.0,271.0" fill="none" stroke="#e4e4e4" stroke-width="5" stroke-linecap="round" stroke-linejoin="round"/><path d="M276.0,225.0 L275.6,227.7 L274.4,230.2 L272.5,232.5 L270.0,234.4 L266.9,235.8 L263.6,236.7 L260.0,237.0 L256.4,236.7 L253.1,235.8 L250.0,234.4 L247.5,232.5 L245.6,230.2 L244.4,227.7 L244.0,225.0 L244.4,222.3 L245.6,219.8 L247.5,217.5 L250.0,215.6 L253.1,214.2 L256.4,213.3 L260.0,213.0 L263.6,213.3 L266.9,214.2 L270.0,215.6 L272.5,217.5 L274.4,219.8 L275.6,222.3 Z" fill="#2e2e2e" stroke="#151515" stroke-width="3" stroke-linejoin="round"/><path d="M263.0,223.0 L262.8,223.9 L262.4,224.7 L261.7,225.5 L260.7,226.1 L259.6,226.6 L258.3,226.9 L257.0,227.0 L255.7,226.9 L254.4,226.6 L253.3,226.1 L252.3,225.5 L251.6,224.7 L251.2,223.9 L251.0,223.0 L251.2,222.1 L251.6,221.3 L252.3,220.5 L253.3,219.9 L254.4,219.4 L255.7,219.1 L257.0,219.0 L258.3,219.1 L259.6,219.4 L260.7,219.9 L261.7,220.5 L262.4,221.3 L262.8,222.1 Z" fill="#777"/><path d="M411.0,108.0 L439.0,108.0 L439.0,163.0 L411.0,163.0 Z" fill="#bdbdbd" stroke="#555" stroke-width="3" stroke-linejoin="round"/><path d="M419.0,112.0 L419.0,159.0" fill="none" stroke="#e4e4e4" stroke-width="5" stroke-linecap="round" stroke-linejoin="round"/><path d="M441.0,108.0 L440.6,110.7 L439.4,113.2 L437.5,115.5 L435.0,117.4 L431.9,118.8 L428.6,119.7 L425.0,120.0 L421.4,119.7 L418.1,118.8 L415.0,117.4 L412.5,115.5 L410.6,113.2 L409.4,110.7 L409.0,108.0 L409.4,105.3 L410.6,102.8 L412.5,100.5 L415.0,98.6 L418.1,97.2 L421.4,96.3 L425.0,96.0 L428.6,96.3 L431.9,97.2 L435.0,98.6 L437.5,100.5 L439.4,102.8 L440.6,105.3 Z" fill="#2e2e2e" stroke="#151515" stroke-width="3" stroke-linejoin="round"/><path d="M428.0,106.0 L427.8,106.9 L427.4,107.7 L426.7,108.5 L425.7,109.1 L424.6,109.6 L423.3,109.9 L422.0,110.0 L420.7,109.9 L419.4,109.6 L418.3,109.1 L417.3,108.5 L416.6,107.7 L416.2,106.9 L416.0,106.0 L416.2,105.1 L416.6,104.3 L417.3,103.5 L418.3,102.9 L419.4,102.4 L420.7,102.1 L422.0,102.0 L423.3,102.1 L424.6,102.4 L425.7,102.9 L426.7,103.5 L427.4,104.3 L427.8,105.1 Z" fill="#777"/><path d="M386.0,320.0 L414.0,320.0 L414.0,375.0 L386.0,375.0 Z" fill="#bdbdbd" stroke="#555" stroke-width="3" stroke-linejoin="round"/><path d="M394.0,324.0 L394.0,371.0" fill="none" stroke="#e4e4e4" stroke-width="5" stroke-linecap="round" stroke-linejoin="round"/><path d="M416.0,320.0 L415.6,322.7 L414.4,325.2 L412.5,327.5 L410.0,329.4 L406.9,330.8 L403.6,331.7 L400.0,332.0 L396.4,331.7 L393.1,330.8 L390.0,329.4 L387.5,327.5 L385.6,325.2 L384.4,322.7 L384.0,320.0 L384.4,317.3 L385.6,314.8 L387.5,312.5 L390.0,310.6 L393.1,309.2 L396.4,308.3 L400.0,308.0 L403.6,308.3 L406.9,309.2 L410.0,310.6 L412.5,312.5 L414.4,314.8 L415.6,317.3 Z" fill="#2e2e2e" stroke="#151515" stroke-width="3" stroke-linejoin="round"/><path d="M403.0,318.0 L402.8,318.9 L402.4,319.7 L401.7,320.5 L400.7,321.1 L399.6,321.6 L398.3,321.9 L397.0,322.0 L395.7,321.9 L394.4,321.6 L393.3,321.1 L392.3,320.5 L391.6,319.7 L391.2,318.9 L391.0,318.0 L391.2,317.1 L391.6,316.3 L392.3,315.5 L393.3,314.9 L394.4,314.4 L395.7,314.1 L397.0,314.0 L398.3,314.1 L399.6,314.4 L400.7,314.9 L401.7,315.5 L402.4,316.3 L402.8,317.1 Z" fill="#777"/><path d="M466.0,270.0 L494.0,270.0 L494.0,320.0 L466.0,320.0 Z" fill="#bdbdbd" stroke="#555" stroke-width="3" stroke-linejoin="round"/><path d="M474.0,274.0 L474.0,316.0" fill="none" stroke="#e4e4e4" stroke-width="5" stroke-linecap="round" stroke-linejoin="round"/><path d="M496.0,270.0 L495.6,272.7 L494.4,275.2 L492.5,277.5 L490.0,279.4 L486.9,280.8 L483.6,281.7 L480.0,282.0 L476.4,281.7 L473.1,280.8 L470.0,279.4 L467.5,277.5 L465.6,275.2 L464.4,272.7 L464.0,270.0 L464.4,267.3 L465.6,264.8 L467.5,262.5 L470.0,260.6 L473.1,259.2 L476.4,258.3 L480.0,258.0 L483.6,258.3 L486.9,259.2 L490.0,260.6 L492.5,262.5 L494.4,264.8 L495.6,267.3 Z" fill="#2e2e2e" stroke="#151515" stroke-width="3" stroke-linejoin="round"/><path d="M483.0,268.0 L482.8,268.9 L482.4,269.7 L481.7,270.5 L480.7,271.1 L479.6,271.6 L478.3,271.9 L477.0,272.0 L475.7,271.9 L474.4,271.6 L473.3,271.1 L472.3,270.5 L471.6,269.7 L471.2,268.9 L471.0,268.0 L471.2,267.1 L471.6,266.3 L472.3,265.5 L473.3,264.9 L474.4,264.4 L475.7,264.1 L477.0,264.0 L478.3,264.1 L479.6,264.4 L480.7,264.9 L481.7,265.5 L482.4,266.3 L482.8,267.1 Z" fill="#777"/><path d="M492.0,401.0 L520.0,401.0 L520.0,456.0 L492.0,456.0 Z" fill="#bdbdbd" stroke="#555" stroke-width="3" stroke-linejoin="round"/><path d="M500.0,405.0 L500.0,452.0" fill="none" stroke="#e4e4e4" stroke-width="5" stroke-linecap="round" stroke-linejoin="round"/><path d="M522.0,401.0 L521.6,403.7 L520.4,406.2 L518.5,408.5 L516.0,410.4 L512.9,411.8 L509.6,412.7 L506.0,413.0 L502.4,412.7 L499.1,411.8 L496.0,410.4 L493.5,408.5 L491.6,406.2 L490.4,403.7 L490.0,401.0 L490.4,398.3 L491.6,395.8 L493.5,393.5 L496.0,391.6 L499.1,390.2 L502.4,389.3 L506.0,389.0 L509.6,389.3 L512.9,390.2 L516.0,391.6 L518.5,393.5 L520.4,395.8 L521.6,398.3 Z" fill="#2e2e2e" stroke="#151515" stroke-width="3" stroke-linejoin="round"/><path d="M509.0,399.0 L508.8,399.9 L508.4,400.7 L507.7,401.5 L506.7,402.1 L505.6,402.6 L504.3,402.9 L503.0,403.0 L501.7,402.9 L500.4,402.6 L499.3,402.1 L498.3,401.5 L497.6,400.7 L497.2,399.9 L497.0,399.0 L497.2,398.1 L497.6,397.3 L498.3,396.5 L499.3,395.9 L500.4,395.4 L501.7,395.1 L503.0,395.0 L504.3,395.1 L505.6,395.4 L506.7,395.9 L507.7,396.5 L508.4,397.3 L508.8,398.1 Z" fill="#777"/><path d="M98.9,305.1 L123.2,284.2 L156.9,278.4 L176.3,304.6 L176.3,350.2 L156.1,366.7 L128.3,367.1 L106.9,351.2 Z" fill="#c4c4c4" stroke="#666" stroke-width="3" stroke-linejoin="round"/><path d="M119.8,295.5 L124.7,355.5" fill="none" stroke="#dcdcdc" stroke-width="8" stroke-linecap="round" stroke-linejoin="round"/><path d="M149.4,290.7 L159.4,355.0" fill="none" stroke="#8a8a8a" stroke-width="5" stroke-linecap="round" stroke-linejoin="round"/><path d="M130.5,391.2 L147.7,370.4 L180.1,345.7 L227.4,338.5 L265.2,358.9 L284.1,391.6 L291.0,450.2 L274.4,477.4 L235.0,486.1 L194.1,479.8 L166.7,455.4 L152.4,419.6 L133.6,406.2 Z" fill="#9a9a9a" stroke="#5e5e5e" stroke-width="3" stroke-linejoin="round"/><path d="M272.3,459.0 L296.4,435.2 L335.9,425.8 L382.0,436.2 L416.4,468.9 L433.9,515.3 L435.5,553.1 L418.2,570.7 L378.5,570.3 L337.1,557.5 L309.2,530.5 L294.6,496.1 L274.7,479.9 Z" fill="#9a9a9a" stroke="#5e5e5e" stroke-width="3" stroke-linejoin="round"/><path d="M258.8,413.5 L259.1,424.7 L257.3,435.4 L253.5,445.1 L248.0,453.3 L240.9,459.6 L232.7,463.8 L223.7,465.5 L214.5,464.7 L205.5,461.4 L197.1,455.7 L189.8,447.9 L183.9,438.5 L179.8,427.7 L177.6,416.3 L177.4,404.7 L179.3,393.6 L183.0,383.5 L188.5,375.0 L195.5,368.6 L203.6,364.5 L212.4,362.9 L221.5,364.0 L230.5,367.7 L238.9,373.7 L246.3,381.8 L252.2,391.5 L256.5,402.2 Z" fill="#e6e6e6" stroke="#6e6e6e" stroke-width="3" stroke-linejoin="round"/><path d="M406.1,507.4 L406.2,518.7 L404.4,529.1 L400.5,538.1 L394.9,545.4 L387.8,550.5 L379.5,553.3 L370.5,553.6 L361.2,551.3 L352.1,546.7 L343.6,539.8 L336.2,531.1 L330.2,520.9 L325.9,509.7 L323.6,498.2 L323.4,486.9 L325.2,476.4 L329.1,467.1 L334.7,459.5 L341.9,454.0 L350.2,450.9 L359.3,450.4 L368.7,452.6 L377.9,457.4 L386.4,464.6 L393.8,473.7 L399.7,484.3 L403.8,495.7 Z" fill="#e6e6e6" stroke="#6e6e6e" stroke-width="3" stroke-linejoin="round"/><path d="M226.9,423.2 L227.3,431.1 L226.7,438.6 L225.2,445.3 L222.7,451.1 L219.5,455.4 L215.7,458.3 L211.4,459.4 L207.0,458.7 L202.6,456.2 L198.4,452.2 L194.8,446.7 L191.7,440.0 L189.5,432.5 L188.1,424.6 L187.8,416.5 L188.4,408.9 L190.0,401.9 L192.4,396.1 L195.6,391.6 L199.4,388.8 L203.6,387.8 L208.0,388.6 L212.4,391.1 L216.5,395.4 L220.2,401.0 L223.2,407.8 L225.5,415.3 Z" fill="#c4c4c4"/><path d="M374.0,509.8 L374.3,518.0 L373.7,525.7 L372.1,532.6 L369.6,538.2 L366.3,542.3 L362.4,544.7 L358.1,545.3 L353.6,544.0 L349.2,540.9 L345.0,536.2 L341.2,530.1 L338.1,523.0 L335.9,515.1 L334.5,506.9 L334.1,498.9 L334.7,491.3 L336.3,484.7 L338.8,479.3 L342.1,475.3 L346.0,473.0 L350.3,472.4 L354.8,473.6 L359.3,476.5 L363.5,481.0 L367.2,486.9 L370.3,493.8 L372.6,501.6 Z" fill="#c4c4c4"/><path d="M207.9,428.1 L208.5,434.9 L208.5,441.4 L208.1,447.2 L207.3,452.0 L206.0,455.7 L204.4,458.1 L202.5,458.9 L200.4,458.3 L198.3,456.1 L196.3,452.5 L194.3,447.8 L192.6,442.0 L191.3,435.6 L190.3,428.8 L189.8,421.9 L189.8,415.4 L190.2,409.5 L191.1,404.5 L192.4,400.8 L194.0,398.4 L195.8,397.6 L197.9,398.3 L200.0,400.5 L202.0,404.2 L203.9,409.1 L205.6,414.9 L207.0,421.4 Z" fill="#f4f4f4"/><path d="M354.7,512.1 L355.2,519.2 L355.3,526.0 L354.8,532.0 L353.9,537.1 L352.6,540.8 L351.0,543.1 L349.1,543.8 L347.0,542.8 L344.9,540.3 L342.8,536.4 L340.8,531.2 L339.1,525.1 L337.7,518.4 L336.8,511.3 L336.2,504.3 L336.2,497.8 L336.6,492.0 L337.5,487.3 L338.8,483.8 L340.4,481.6 L342.3,481.0 L344.4,481.8 L346.6,484.1 L348.7,487.8 L350.7,492.6 L352.4,498.5 L353.8,505.1 Z" fill="#f4f4f4"/><path d="M242.3,377.9 L242.3,380.4 L241.6,382.9 L240.4,385.0 L238.6,386.9 L236.4,388.3 L233.9,389.2 L231.2,389.6 L228.4,389.4 L225.7,388.6 L223.2,387.3 L221.0,385.6 L219.3,383.5 L218.2,381.2 L217.6,378.6 L217.6,376.1 L218.3,373.7 L219.5,371.5 L221.3,369.6 L223.5,368.2 L226.0,367.3 L228.7,366.9 L231.5,367.1 L234.2,367.9 L236.6,369.2 L238.8,370.9 L240.5,373.0 L241.7,375.4 Z" fill="#585858"/><path d="M388.8,468.2 L388.8,470.6 L388.1,472.7 L386.8,474.6 L385.0,475.9 L382.7,476.8 L380.2,477.2 L377.4,477.1 L374.6,476.4 L371.8,475.2 L369.3,473.6 L367.1,471.7 L365.4,469.5 L364.2,467.1 L363.6,464.7 L363.7,462.4 L364.3,460.2 L365.6,458.3 L367.4,456.8 L369.7,455.8 L372.3,455.3 L375.0,455.4 L377.9,456.1 L380.6,457.2 L383.2,458.9 L385.4,460.9 L387.1,463.2 L388.3,465.7 Z" fill="#585858"/><path d="M148.8,390.8 L148.8,392.6 L148.3,394.3 L147.5,395.8 L146.4,397.1 L145.0,398.0 L143.4,398.7 L141.7,398.9 L139.9,398.7 L138.2,398.2 L136.6,397.3 L135.3,396.1 L134.2,394.6 L133.5,392.9 L133.1,391.1 L133.1,389.4 L133.6,387.7 L134.3,386.1 L135.5,384.8 L136.9,383.9 L138.5,383.2 L140.2,383.0 L142.0,383.2 L143.7,383.7 L145.2,384.6 L146.6,385.9 L147.7,387.4 L148.4,389.0 Z" fill="#e8e8e8" stroke="#5e5e5e" stroke-width="3" stroke-linejoin="round"/><path d="M293.6,456.7 L293.6,458.4 L293.2,460.0 L292.4,461.4 L291.2,462.6 L289.8,463.6 L288.2,464.2 L286.4,464.4 L284.6,464.3 L282.8,463.8 L281.2,462.9 L279.7,461.8 L278.6,460.4 L277.8,458.8 L277.4,457.2 L277.4,455.5 L277.9,453.9 L278.6,452.5 L279.8,451.3 L281.2,450.3 L282.8,449.7 L284.6,449.5 L286.4,449.6 L288.2,450.1 L289.9,451.0 L291.3,452.1 L292.4,453.5 L293.2,455.1 Z" fill="#e8e8e8" stroke="#5e5e5e" stroke-width="3" stroke-linejoin="round"/><path d="M437.0,550.9 L437.0,552.6 L436.5,554.1 L435.8,555.3 L434.6,556.3 L433.2,556.9 L431.6,557.1 L429.8,556.9 L428.0,556.4 L426.2,555.5 L424.6,554.3 L423.1,552.8 L422.0,551.2 L421.2,549.4 L420.8,547.7 L420.8,546.0 L421.3,544.5 L422.1,543.2 L423.2,542.3 L424.6,541.7 L426.3,541.4 L428.0,541.6 L429.8,542.2 L431.6,543.1 L433.2,544.4 L434.6,545.8 L435.8,547.5 L436.6,549.2 Z" fill="#e8e8e8" stroke="#5e5e5e" stroke-width="3" stroke-linejoin="round"/><path d="M244.9,494.1 L279.4,481.4 L298.3,513.2 L289.4,530.9 L253.2,528.1 Z" fill="#a6a6a6" stroke="#5e5e5e" stroke-width="3" stroke-linejoin="round"/><path d="M279.0,509.5 L279.0,511.6 L278.6,513.7 L277.9,515.5 L276.8,517.1 L275.4,518.3 L273.8,519.0 L272.0,519.3 L270.2,519.2 L268.4,518.6 L266.7,517.5 L265.3,516.1 L264.1,514.3 L263.3,512.4 L262.9,510.3 L262.8,508.2 L263.2,506.1 L264.0,504.3 L265.1,502.8 L266.5,501.6 L268.1,500.8 L269.9,500.5 L271.7,500.6 L273.5,501.3 L275.1,502.3 L276.6,503.7 L277.7,505.5 L278.6,507.4 Z" fill="#f0f0f0"/><path d="M461.0,656.9 L521.7,632.8 L575.1,650.6 L590.1,696.2 L560.0,725.5 L510.0,738.8 L484.9,726.6 Z" fill="#d2d2d2" stroke="#666" stroke-width="3" stroke-linejoin="round"/><path d="M528.3,644.2 L574.9,697.1" fill="none" stroke="#f0f0f0" stroke-width="10" stroke-linecap="round" stroke-linejoin="round"/><path d="M526.3,690.3 L526.5,696.2 L525.4,701.9 L523.1,707.1 L519.6,711.4 L515.1,714.7 L509.8,716.8 L504.1,717.5 L498.2,716.8 L492.4,714.7 L487.0,711.4 L482.2,707.0 L478.3,701.6 L475.6,695.7 L474.0,689.6 L473.8,683.4 L474.8,677.7 L477.1,672.6 L480.6,668.5 L485.0,665.4 L490.2,663.7 L495.9,663.2 L501.8,664.1 L507.7,666.2 L513.1,669.4 L517.9,673.7 L521.9,678.7 L524.7,684.3 Z" fill="#f4f4f4" stroke="#555" stroke-width="4" stroke-linejoin="round"/><path d="M507.9,730.6 L507.9,731.9 L507.4,733.1 L506.6,734.2 L505.4,735.1 L503.9,735.8 L502.2,736.3 L500.3,736.5 L498.4,736.3 L496.6,735.9 L494.9,735.2 L493.4,734.3 L492.3,733.2 L491.5,732.0 L491.1,730.7 L491.1,729.4 L491.6,728.2 L492.4,727.1 L493.6,726.2 L495.1,725.5 L496.8,725.1 L498.6,724.9 L500.5,725.0 L502.4,725.5 L504.1,726.1 L505.5,727.0 L506.7,728.1 L507.5,729.3 Z" fill="#777"/><path d="M712.0,62.0 L550.0,56.9" stroke="#d8232a" stroke-width="8"/><path d="M520.0,56.0 L554.5,40.1 L553.5,74.1 Z" fill="#d8232a"/><path d="M712.0,85.0 L679.6,122.3" stroke="#d8232a" stroke-width="8"/><path d="M660.0,145.0 L669.4,108.2 L695.1,130.4 Z" fill="#d8232a"/><path d="M738.0,90.0 L748.5,178.2" stroke="#d8232a" stroke-width="8"/><path d="M752.0,208.0 L731.1,176.2 L764.9,172.2 Z" fill="#d8232a"/><path d="M425.0,190.0 L429.2,157.8" stroke="#d8232a" stroke-width="8"/><path d="M433.0,128.0 L445.5,163.9 L411.8,159.5 Z" fill="#d8232a"/><path d="M402.0,205.0 L370.0,192.7" stroke="#d8232a" stroke-width="8"/><path d="M342.0,182.0 L379.8,178.3 L367.7,210.0 Z" fill="#d8232a"/><path d="M445.0,210.0 L526.0,212.2" stroke="#d8232a" stroke-width="8"/><path d="M556.0,213.0 L521.6,229.1 L522.5,195.1 Z" fill="#d8232a"/><path d="M425.0,235.0 L448.6,250.0" stroke="#d8232a" stroke-width="8"/><path d="M474.0,266.0 L436.2,262.2 L454.4,233.5 Z" fill="#d8232a"/><path d="M290.0,325.0 L273.5,268.8" stroke="#d8232a" stroke-width="8"/><path d="M265.0,240.0 L290.9,267.8 L258.3,277.4 Z" fill="#d8232a"/><path d="M330.0,350.0 L367.3,338.7" stroke="#d8232a" stroke-width="8"/><path d="M396.0,330.0 L368.4,356.1 L358.5,323.6 Z" fill="#d8232a"/><path d="M330.0,362.0 L467.0,397.5" stroke="#d8232a" stroke-width="8"/><path d="M496.0,405.0 L458.8,412.9 L467.3,380.0 Z" fill="#d8232a"/><path d="M686.0,370.0 L681.6,290.0" stroke="#d8232a" stroke-width="8"/><path d="M680.0,260.0 L698.8,293.0 L664.9,294.9 Z" fill="#d8232a"/><path d="M672.0,362.0 L617.9,340.9" stroke="#d8232a" stroke-width="8"/><path d="M590.0,330.0 L627.9,326.5 L615.5,358.2 Z" fill="#d8232a"/><path d="M522.0,612.0 L517.0,468.0" stroke="#d8232a" stroke-width="8"/><path d="M516.0,438.0 L534.2,471.4 L500.2,472.6 Z" fill="#d8232a"/><path d="M810.0,335.0 L763.4,289.1" stroke="#d8232a" stroke-width="8"/><path d="M742.0,268.0 L778.2,279.8 L754.3,304.0 Z" fill="#d8232a"/><rect x="712" y="42" width="50" height="48" fill="#fff" stroke="#9a9a9a" stroke-width="3"/><text x="737.0" y="81" font-family="Liberation Sans" font-size="38" font-weight="bold" text-anchor="middle" fill="#222">3</text><rect x="400" y="190" width="45" height="45" fill="#fff" stroke="#9a9a9a" stroke-width="3"/><text x="422.5" y="226" font-family="Liberation Sans" font-size="38" font-weight="bold" text-anchor="middle" fill="#222">3</text><rect x="285" y="325" width="45" height="48" fill="#fff" stroke="#9a9a9a" stroke-width="3"/><text x="307.5" y="364" font-family="Liberation Sans" font-size="38" font-weight="bold" text-anchor="middle" fill="#222">3</text><rect x="664" y="370" width="46" height="46" fill="#fff" stroke="#9a9a9a" stroke-width="3"/><text x="687.0" y="407" font-family="Liberation Sans" font-size="38" font-weight="bold" text-anchor="middle" fill="#222">4</text><rect x="505" y="610" width="45" height="46" fill="#fff" stroke="#9a9a9a" stroke-width="3"/><text x="527.5" y="647" font-family="Liberation Sans" font-size="38" font-weight="bold" text-anchor="middle" fill="#222">5</text><rect x="800" y="330" width="45" height="46" fill="#fff" stroke="#9a9a9a" stroke-width="3"/><text x="822.5" y="367" font-family="Liberation Sans" font-size="38" font-weight="bold" text-anchor="middle" fill="#222">6</text></svg>
<div class="fr" style="top:299px;height:229px"></div>
<svg class="im" style="top:547px" width="300" height="225" viewBox="0 0 1024 768"><defs><linearGradient id="tvp3" x1="0" y1="0" x2="0" y2="1"><stop offset="0" stop-color="#c4c4c4"/><stop offset="1" stop-color="#9e9e9e"/></linearGradient><linearGradient id="tvh3" x1="0" y1="0" x2="0" y2="1"><stop offset="0" stop-color="#a9a9a9"/><stop offset=".5" stop-color="#d2d2d2"/><stop offset="1" stop-color="#e6e6e6"/></linearGradient></defs><path d="M95,690 L330,690 L330,768 L95,768 Z" fill="#dcdcdc"/><path d="M120,700 L210,700 L200,768 L130,768 Z" fill="#c2c2c2"/><path d="M330,650 L830,650 L830,700 L800,712 L720,716 L640,705 L600,712 L520,716 L450,712 L380,705 L335,690 Z" fill="#dadada" stroke="#a8a8a8" stroke-width="3"/><path d="M360,665 L800,665" stroke="#c4c4c4" stroke-width="10"/><path d="M842,655 L962,655 L962,768 L842,768 Z" fill="#a3a3a3"/><path d="M790,655 L842,655 L842,768 L820,768 Z" fill="#cfcfcf"/><path d="M290,118 L290,80 L330,60 L370,28 L420,16 L510,16 L560,30 L600,60 L625,65 L630,40 L680,20 L790,18 L830,35 L880,55 L895,45 L960,70 L965,118 Z" fill="#e3e3e3" stroke="#a9a9a9" stroke-width="3"/><ellipse cx="452" cy="72" rx="64" ry="38" fill="url(#tvp3)"/><ellipse cx="738" cy="72" rx="64" ry="38" fill="url(#tvp3)"/><path d="M298,85 L350,85 L350,118 L298,118 Z" fill="#d6d6d6" stroke="#aaa" stroke-width="2"/><path d="M560,80 L615,80 L615,118 L560,118 Z" fill="#d0d0d0"/><path d="M850,80 L950,80 L955,118 L850,118 Z" fill="#d2d2d2"/><path d="M95,8 L230,8 L290,90 L290,118 L248,118 L248,700 L95,700 Z" fill="#e3e3e3" stroke="#b0b0b0" stroke-width="3"/><path d="M100,10 L120,10 L120,80 L100,80 Z M180,10 L200,10 L200,80 L180,80 Z" fill="#cdcdcd"/><path d="M130,92 L222,92 L222,155 L130,155 Z" fill="#b3b3b3"/><ellipse cx="176" cy="130" rx="40" ry="14" fill="#dedede"/><path d="M133,155 L220,155 L220,605 L133,605 Z" fill="#ffffff"/><path d="M133,605 L220,605 L220,672 L133,672 Z" fill="#c9c9c9"/><path d="M126,92 L126,680 M226,92 L226,680" stroke="#909090" stroke-width="4"/><path d="M92,165 L92,610" stroke="#c8c8c8" stroke-width="10"/><path d="M95,205 L55,245 L45,265 L60,285 L95,300 Z" fill="#e4e4e4" stroke="#b5b5b5" stroke-width="3"/><path d="M95,465 L55,500 L45,520 L60,545 L95,560 Z" fill="#e4e4e4" stroke="#b5b5b5" stroke-width="3"/><circle cx="70" cy="263" r="8" fill="#fff" stroke="#bbb" stroke-width="2"/><circle cx="68" cy="518" r="8" fill="#fff" stroke="#bbb" stroke-width="2"/><path d="M958,200 L990,205 L990,465 L958,470 Z" fill="#d4d4d4" stroke="#aaa" stroke-width="3"/><path d="M965,240 L985,240 M965,400 L985,400" stroke="#999" stroke-width="8"/><rect x="246" y="114" width="714" height="540" rx="8" fill="#e7e7e7" stroke="#8e8e8e" stroke-width="3"/><rect x="284" y="142" width="646" height="490" fill="#dadada" stroke="#909090" stroke-width="3"/><path d="M286,144 L928,144 L928,160 L286,160 Z" fill="#b4b4b4"/><path d="M330,144 L430,144 L430,192 Q380.0,178 330,192 Z" fill="#9a9a9a"/><path d="M470,144 L560,144 L560,192 Q515.0,178 470,192 Z" fill="#9a9a9a"/><path d="M630,144 L720,144 L720,192 Q675.0,178 630,192 Z" fill="#9a9a9a"/><path d="M762,144 L860,144 L860,192 Q811.0,178 762,192 Z" fill="#9a9a9a"/><path d="M345,175 L445,175 L445,315 Q445,342 420,342 L370,342 Q345,342 345,315 Z" fill="#e4e4e4" stroke="#7e7e7e" stroke-width="4"/><path d="M349,322 Q351,336 370,336 L420,336 Q439,336 441,322 L441,330 Q441,346 420,346 L370,346 Q349,346 349,330 Z" fill="#9a9a9a"/><path d="M351,238 Q395,205 439,238 L439,256 Q395,226 351,256 Z" fill="#8e8e8e"/><path d="M460,175 L560,175 L560,315 Q560,342 535,342 L485,342 Q460,342 460,315 Z" fill="#e4e4e4" stroke="#7e7e7e" stroke-width="4"/><path d="M464,322 Q466,336 485,336 L535,336 Q554,336 556,322 L556,330 Q556,346 535,346 L485,346 Q464,346 464,330 Z" fill="#9a9a9a"/><path d="M466,238 Q510,205 554,238 L554,256 Q510,226 466,256 Z" fill="#8e8e8e"/><path d="M630,175 L730,175 L730,315 Q730,342 705,342 L655,342 Q630,342 630,315 Z" fill="#e4e4e4" stroke="#7e7e7e" stroke-width="4"/><path d="M634,322 Q636,336 655,336 L705,336 Q724,336 726,322 L726,330 Q726,346 705,346 L655,346 Q634,346 634,330 Z" fill="#9a9a9a"/><path d="M636,238 Q680,205 724,238 L724,256 Q680,226 636,256 Z" fill="#8e8e8e"/><path d="M745,175 L845,175 L845,315 Q845,342 820,342 L770,342 Q745,342 745,315 Z" fill="#e4e4e4" stroke="#7e7e7e" stroke-width="4"/><path d="M749,322 Q751,336 770,336 L820,336 Q839,336 841,322 L841,330 Q841,346 820,346 L770,346 Q749,346 749,330 Z" fill="#9a9a9a"/><path d="M751,238 Q795,205 839,238 L839,256 Q795,226 751,256 Z" fill="#8e8e8e"/><path d="M440,144 L464,144 L464,210 L440,210 Z" fill="#e6e6e6" stroke="#909090" stroke-width="2"/><circle cx="452" cy="180" r="12" fill="#f4f4f4" stroke="#999" stroke-width="3"/><path d="M725,144 L749,144 L749,210 L725,210 Z" fill="#e6e6e6" stroke="#909090" stroke-width="2"/><circle cx="737" cy="180" r="12" fill="#f4f4f4" stroke="#999" stroke-width="3"/><circle cx="307" cy="190" r="38" fill="#e8e8e8" stroke="#8e8e8e" stroke-width="3"/><circle cx="307" cy="190" r="20" fill="#fcfcfc" stroke="#b5b5b5" stroke-width="3"/><circle cx="595" cy="190" r="40" fill="#e8e8e8" stroke="#8e8e8e" stroke-width="3"/><circle cx="595" cy="190" r="22" fill="#fcfcfc" stroke="#b5b5b5" stroke-width="3"/><circle cx="877" cy="190" r="40" fill="#e8e8e8" stroke="#8e8e8e" stroke-width="3"/><circle cx="877" cy="190" r="22" fill="#fcfcfc" stroke="#b5b5b5" stroke-width="3"/><path d="M395,340 L800,340 L800,450 L395,450 Z" fill="#dedede"/><path d="M360,320 L300,320 L300,460 L360,460 Z" fill="#d0d0d0"/><path d="M395,392 Q395,340 450,337 L520,337 Q560,380 592,392 Q625,380 665,337 L735,337 Q790,340 790,392 Q790,445 735,447 L680,447 Q640,470 592,470 Q545,470 505,447 L450,447 Q395,445 395,392 Z" fill="#e6e6e6" stroke="#7e7e7e" stroke-width="4"/><circle cx="450" cy="392" r="55" fill="#e4e4e4" stroke="#8e8e8e" stroke-width="3"/><circle cx="450" cy="392" r="30" fill="#f0f0f0" stroke="#a8a8a8" stroke-width="4"/><circle cx="450" cy="392" r="14" fill="#ffffff"/><circle cx="735" cy="392" r="55" fill="#e4e4e4" stroke="#8e8e8e" stroke-width="3"/><circle cx="735" cy="392" r="30" fill="#f0f0f0" stroke="#a8a8a8" stroke-width="4"/><circle cx="735" cy="392" r="14" fill="#ffffff"/><circle cx="548" cy="432" r="22" fill="#e2e2e2" stroke="#aaa" stroke-width="3"/><circle cx="548" cy="432" r="9" fill="#f8f8f8" stroke="#bbb" stroke-width="2"/><circle cx="632" cy="432" r="22" fill="#e2e2e2" stroke="#aaa" stroke-width="3"/><circle cx="632" cy="432" r="9" fill="#f8f8f8" stroke="#bbb" stroke-width="2"/><path d="M344,480 Q344,458 367,458 L417,458 Q440,458 440,480 L440,630 L344,630 Z" fill="#e2e2e2" stroke="#7e7e7e" stroke-width="4"/><path d="M457,480 Q457,458 480,458 L530,458 Q553,458 553,480 L553,630 L457,630 Z" fill="#e2e2e2" stroke="#7e7e7e" stroke-width="4"/><path d="M632,480 Q632,458 655,458 L705,458 Q728,458 728,480 L728,630 L632,630 Z" fill="#e2e2e2" stroke="#7e7e7e" stroke-width="4"/><path d="M744,480 Q744,458 767,458 L817,458 Q840,458 840,480 L840,630 L744,630 Z" fill="#e2e2e2" stroke="#7e7e7e" stroke-width="4"/><path d="M548,470 L632,470 L632,630 L548,630 Z" fill="#e8e8e8" stroke="#a5a5a5" stroke-width="3"/><circle cx="307" cy="572" r="38" fill="#e6e6e6" stroke="#909090" stroke-width="3"/><circle cx="307" cy="572" r="18" fill="#fdfdfd"/><circle cx="595" cy="585" r="36" fill="#e6e6e6" stroke="#909090" stroke-width="3"/><circle cx="595" cy="585" r="16" fill="#fdfdfd"/><circle cx="877" cy="572" r="38" fill="#e6e6e6" stroke="#909090" stroke-width="3"/><circle cx="877" cy="572" r="18" fill="#fdfdfd"/><circle cx="255" cy="180" r="11" fill="#f2f2f2" stroke="#999" stroke-width="3"/><circle cx="252" cy="248" r="11" fill="#f2f2f2" stroke="#999" stroke-width="3"/><circle cx="255" cy="300" r="11" fill="#f2f2f2" stroke="#999" stroke-width="3"/><circle cx="255" cy="470" r="11" fill="#f2f2f2" stroke="#999" stroke-width="3"/><circle cx="250" cy="600" r="11" fill="#f2f2f2" stroke="#999" stroke-width="3"/><circle cx="455" cy="600" r="11" fill="#f2f2f2" stroke="#999" stroke-width="3"/><circle cx="740" cy="600" r="11" fill="#f2f2f2" stroke="#999" stroke-width="3"/><circle cx="595" cy="620" r="11" fill="#f2f2f2" stroke="#999" stroke-width="3"/><circle cx="862" cy="298" r="11" fill="#f2f2f2" stroke="#999" stroke-width="3"/><circle cx="915" cy="480" r="11" fill="#f2f2f2" stroke="#999" stroke-width="3"/><circle cx="446" cy="301" r="11" fill="#f2f2f2" stroke="#999" stroke-width="3"/><circle cx="736" cy="301" r="11" fill="#f2f2f2" stroke="#999" stroke-width="3"/><circle cx="446" cy="471" r="11" fill="#f2f2f2" stroke="#999" stroke-width="3"/><circle cx="736" cy="471" r="11" fill="#f2f2f2" stroke="#999" stroke-width="3"/><path d="M840,240 L920,240 L920,262 L840,262 Z M840,285 L920,285 L920,300 L840,300 Z" fill="#ececec" stroke="#aaa" stroke-width="2"/><circle cx="395" cy="290" r="30" fill="#e9e9e9" stroke="#9a9a9a" stroke-width="3"/><circle cx="395" cy="292" r="15" fill="#fff" stroke="#999" stroke-width="3"/><circle cx="510" cy="290" r="30" fill="#e9e9e9" stroke="#9a9a9a" stroke-width="3"/><circle cx="510" cy="292" r="15" fill="#fff" stroke="#999" stroke-width="3"/><circle cx="680" cy="290" r="30" fill="#e9e9e9" stroke="#9a9a9a" stroke-width="3"/><circle cx="680" cy="292" r="15" fill="#fff" stroke="#999" stroke-width="3"/><circle cx="795" cy="290" r="30" fill="#e9e9e9" stroke="#9a9a9a" stroke-width="3"/><circle cx="795" cy="292" r="15" fill="#fff" stroke="#999" stroke-width="3"/><ellipse cx="390" cy="508" rx="38" ry="40" fill="#d0d0d0" stroke="#8a8a8a" stroke-width="3"/><ellipse cx="390" cy="505" rx="28" ry="30" fill="#ececec" stroke="#a0a0a0" stroke-width="3"/><rect x="375" y="470" width="30" height="42" rx="7" fill="#f2f2f2" stroke="#9a9a9a" stroke-width="3"/><ellipse cx="503" cy="508" rx="38" ry="40" fill="#d0d0d0" stroke="#8a8a8a" stroke-width="3"/><ellipse cx="503" cy="505" rx="28" ry="30" fill="#ececec" stroke="#a0a0a0" stroke-width="3"/><rect x="488" y="470" width="30" height="42" rx="7" fill="#f2f2f2" stroke="#9a9a9a" stroke-width="3"/><ellipse cx="682" cy="508" rx="38" ry="40" fill="#d0d0d0" stroke="#8a8a8a" stroke-width="3"/><ellipse cx="682" cy="505" rx="28" ry="30" fill="#ececec" stroke="#a0a0a0" stroke-width="3"/><rect x="667" y="470" width="30" height="42" rx="7" fill="#f2f2f2" stroke="#9a9a9a" stroke-width="3"/><ellipse cx="792" cy="508" rx="38" ry="40" fill="#d0d0d0" stroke="#8a8a8a" stroke-width="3"/><ellipse cx="792" cy="505" rx="28" ry="30" fill="#ececec" stroke="#a0a0a0" stroke-width="3"/><rect x="777" y="470" width="30" height="42" rx="7" fill="#f2f2f2" stroke="#9a9a9a" stroke-width="3"/><circle cx="332" cy="402" r="32" fill="#5a5a5a" stroke="#8a8a8a" stroke-width="6"/><circle cx="332" cy="402" r="20" fill="#3c3c3c"/><circle cx="592" cy="357" r="32" fill="#5a5a5a" stroke="#8a8a8a" stroke-width="6"/><circle cx="592" cy="357" r="20" fill="#3a3a3a"/><path d="M575.0,560.0 L370.9,441.1" stroke="#d8232a" stroke-width="8"/><path d="M345.0,426.0 L382.9,428.4 L365.8,457.8 Z" fill="#d8232a"/><path d="M587.0,560.0 L587.8,422.0" stroke="#d8232a" stroke-width="8"/><path d="M588.0,392.0 L604.8,426.1 L570.8,425.9 Z" fill="#d8232a"/><rect x="563" y="550" width="44" height="46" fill="#fff" stroke="#9a9a9a" stroke-width="3"/><text x="585.0" y="587" font-family="Liberation Sans" font-size="38" font-weight="bold" text-anchor="middle" fill="#222">7</text></svg>
<div class="fr" style="top:545px;height:229px"></div>
<svg class="im" style="top:794px" width="300" height="225" viewBox="0 0 1024 768"><defs><linearGradient id="tvp4" x1="0" y1="0" x2="0" y2="1"><stop offset="0" stop-color="#c4c4c4"/><stop offset="1" stop-color="#9e9e9e"/></linearGradient><linearGradient id="tvh4" x1="0" y1="0" x2="0" y2="1"><stop offset="0" stop-color="#a9a9a9"/><stop offset=".5" stop-color="#d2d2d2"/><stop offset="1" stop-color="#e6e6e6"/></linearGradient></defs><path d="M95,690 L330,690 L330,768 L95,768 Z" fill="#dcdcdc"/><path d="M120,700 L210,700 L200,768 L130,768 Z" fill="#c2c2c2"/><path d="M330,650 L830,650 L830,700 L800,712 L720,716 L640,705 L600,712 L520,716 L450,712 L380,705 L335,690 Z" fill="#dadada" stroke="#a8a8a8" stroke-width="3"/><path d="M360,665 L800,665" stroke="#c4c4c4" stroke-width="10"/><path d="M842,655 L962,655 L962,768 L842,768 Z" fill="#a3a3a3"/><path d="M790,655 L842,655 L842,768 L820,768 Z" fill="#cfcfcf"/><path d="M290,118 L290,80 L330,60 L370,28 L420,16 L510,16 L560,30 L600,60 L625,65 L630,40 L680,20 L790,18 L830,35 L880,55 L895,45 L960,70 L965,118 Z" fill="#e3e3e3" stroke="#a9a9a9" stroke-width="3"/><ellipse cx="452" cy="72" rx="64" ry="38" fill="url(#tvp4)"/><ellipse cx="738" cy="72" rx="64" ry="38" fill="url(#tvp4)"/><path d="M298,85 L350,85 L350,118 L298,118 Z" fill="#d6d6d6" stroke="#aaa" stroke-width="2"/><path d="M560,80 L615,80 L615,118 L560,118 Z" fill="#d0d0d0"/><path d="M850,80 L950,80 L955,118 L850,118 Z" fill="#d2d2d2"/><path d="M95,8 L230,8 L290,90 L290,118 L248,118 L248,700 L95,700 Z" fill="#e3e3e3" stroke="#b0b0b0" stroke-width="3"/><path d="M100,10 L120,10 L120,80 L100,80 Z M180,10 L200,10 L200,80 L180,80 Z" fill="#cdcdcd"/><path d="M130,92 L222,92 L222,155 L130,155 Z" fill="#b3b3b3"/><ellipse cx="176" cy="130" rx="40" ry="14" fill="#dedede"/><path d="M133,155 L220,155 L220,605 L133,605 Z" fill="#ffffff"/><path d="M133,605 L220,605 L220,672 L133,672 Z" fill="#c9c9c9"/><path d="M126,92 L126,680 M226,92 L226,680" stroke="#909090" stroke-width="4"/><path d="M92,165 L92,610" stroke="#c8c8c8" stroke-width="10"/><path d="M95,205 L55,245 L45,265 L60,285 L95,300 Z" fill="#e4e4e4" stroke="#b5b5b5" stroke-width="3"/><path d="M95,465 L55,500 L45,520 L60,545 L95,560 Z" fill="#e4e4e4" stroke="#b5b5b5" stroke-width="3"/><circle cx="70" cy="263" r="8" fill="#fff" stroke="#bbb" stroke-width="2"/><circle cx="68" cy="518" r="8" fill="#fff" stroke="#bbb" stroke-width="2"/><path d="M958,200 L990,205 L990,465 L958,470 Z" fill="#d4d4d4" stroke="#aaa" stroke-width="3"/><path d="M965,240 L985,240 M965,400 L985,400" stroke="#999" stroke-width="8"/><rect x="246" y="114" width="714" height="540" rx="8" fill="#e7e7e7" stroke="#8e8e8e" stroke-width="3"/><rect x="284" y="142" width="646" height="490" fill="#dadada" stroke="#909090" stroke-width="3"/><path d="M286,144 L928,144 L928,160 L286,160 Z" fill="#b4b4b4"/><path d="M330,144 L430,144 L430,192 Q380.0,178 330,192 Z" fill="#9a9a9a"/><path d="M470,144 L560,144 L560,192 Q515.0,178 470,192 Z" fill="#9a9a9a"/><path d="M630,144 L720,144 L720,192 Q675.0,178 630,192 Z" fill="#9a9a9a"/><path d="M762,144 L860,144 L860,192 Q811.0,178 762,192 Z" fill="#9a9a9a"/><path d="M345,175 L445,175 L445,315 Q445,342 420,342 L370,342 Q345,342 345,315 Z" fill="#e4e4e4" stroke="#7e7e7e" stroke-width="4"/><path d="M349,322 Q351,336 370,336 L420,336 Q439,336 441,322 L441,330 Q441,346 420,346 L370,346 Q349,346 349,330 Z" fill="#9a9a9a"/><path d="M351,238 Q395,205 439,238 L439,256 Q395,226 351,256 Z" fill="#8e8e8e"/><path d="M460,175 L560,175 L560,315 Q560,342 535,342 L485,342 Q460,342 460,315 Z" fill="#e4e4e4" stroke="#7e7e7e" stroke-width="4"/><path d="M464,322 Q466,336 485,336 L535,336 Q554,336 556,322 L556,330 Q556,346 535,346 L485,346 Q464,346 464,330 Z" fill="#9a9a9a"/><path d="M466,238 Q510,205 554,238 L554,256 Q510,226 466,256 Z" fill="#8e8e8e"/><path d="M630,175 L730,175 L730,315 Q730,342 705,342 L655,342 Q630,342 630,315 Z" fill="#e4e4e4" stroke="#7e7e7e" stroke-width="4"/><path d="M634,322 Q636,336 655,336 L705,336 Q724,336 726,322 L726,330 Q726,346 705,346 L655,346 Q634,346 634,330 Z" fill="#9a9a9a"/><path d="M636,238 Q680,205 724,238 L724,256 Q680,226 636,256 Z" fill="#8e8e8e"/><path d="M745,175 L845,175 L845,315 Q845,342 820,342 L770,342 Q745,342 745,315 Z" fill="#e4e4e4" stroke="#7e7e7e" stroke-width="4"/><path d="M749,322 Q751,336 770,336 L820,336 Q839,336 841,322 L841,330 Q841,346 820,346 L770,346 Q749,346 749,330 Z" fill="#9a9a9a"/><path d="M751,238 Q795,205 839,238 L839,256 Q795,226 751,256 Z" fill="#8e8e8e"/><path d="M440,144 L464,144 L464,210 L440,210 Z" fill="#e6e6e6" stroke="#909090" stroke-width="2"/><circle cx="452" cy="180" r="12" fill="#f4f4f4" stroke="#999" stroke-width="3"/><path d="M725,144 L749,144 L749,210 L725,210 Z" fill="#e6e6e6" stroke="#909090" stroke-width="2"/><circle cx="737" cy="180" r="12" fill="#f4f4f4" stroke="#999" stroke-width="3"/><circle cx="307" cy="190" r="38" fill="#e8e8e8" stroke="#8e8e8e" stroke-width="3"/><circle cx="307" cy="190" r="20" fill="#fcfcfc" stroke="#b5b5b5" stroke-width="3"/><circle cx="595" cy="190" r="40" fill="#e8e8e8" stroke="#8e8e8e" stroke-width="3"/><circle cx="595" cy="190" r="22" fill="#fcfcfc" stroke="#b5b5b5" stroke-width="3"/><circle cx="877" cy="190" r="40" fill="#e8e8e8" stroke="#8e8e8e" stroke-width="3"/><circle cx="877" cy="190" r="22" fill="#fcfcfc" stroke="#b5b5b5" stroke-width="3"/><path d="M395,340 L800,340 L800,450 L395,450 Z" fill="#dedede"/><path d="M360,320 L300,320 L300,460 L360,460 Z" fill="#d0d0d0"/><path d="M395,392 Q395,340 450,337 L520,337 Q560,380 592,392 Q625,380 665,337 L735,337 Q790,340 790,392 Q790,445 735,447 L680,447 Q640,470 592,470 Q545,470 505,447 L450,447 Q395,445 395,392 Z" fill="#e6e6e6" stroke="#7e7e7e" stroke-width="4"/><circle cx="450" cy="392" r="55" fill="#e4e4e4" stroke="#8e8e8e" stroke-width="3"/><circle cx="450" cy="392" r="30" fill="#f0f0f0" stroke="#a8a8a8" stroke-width="4"/><circle cx="450" cy="392" r="14" fill="#ffffff"/><circle cx="735" cy="392" r="55" fill="#e4e4e4" stroke="#8e8e8e" stroke-width="3"/><circle cx="735" cy="392" r="30" fill="#f0f0f0" stroke="#a8a8a8" stroke-width="4"/><circle cx="735" cy="392" r="14" fill="#ffffff"/><circle cx="548" cy="432" r="22" fill="#e2e2e2" stroke="#aaa" stroke-width="3"/><circle cx="548" cy="432" r="9" fill="#f8f8f8" stroke="#bbb" stroke-width="2"/><circle cx="632" cy="432" r="22" fill="#e2e2e2" stroke="#aaa" stroke-width="3"/><circle cx="632" cy="432" r="9" fill="#f8f8f8" stroke="#bbb" stroke-width="2"/><path d="M344,480 Q344,458 367,458 L417,458 Q440,458 440,480 L440,630 L344,630 Z" fill="#e2e2e2" stroke="#7e7e7e" stroke-width="4"/><path d="M457,480 Q457,458 480,458 L530,458 Q553,458 553,480 L553,630 L457,630 Z" fill="#e2e2e2" stroke="#7e7e7e" stroke-width="4"/><path d="M632,480 Q632,458 655,458 L705,458 Q728,458 728,480 L728,630 L632,630 Z" fill="#e2e2e2" stroke="#7e7e7e" stroke-width="4"/><path d="M744,480 Q744,458 767,458 L817,458 Q840,458 840,480 L840,630 L744,630 Z" fill="#e2e2e2" stroke="#7e7e7e" stroke-width="4"/><path d="M548,470 L632,470 L632,630 L548,630 Z" fill="#e8e8e8" stroke="#a5a5a5" stroke-width="3"/><circle cx="307" cy="572" r="38" fill="#e6e6e6" stroke="#909090" stroke-width="3"/><circle cx="307" cy="572" r="18" fill="#fdfdfd"/><circle cx="595" cy="585" r="36" fill="#e6e6e6" stroke="#909090" stroke-width="3"/><circle cx="595" cy="585" r="16" fill="#fdfdfd"/><circle cx="877" cy="572" r="38" fill="#e6e6e6" stroke="#909090" stroke-width="3"/><circle cx="877" cy="572" r="18" fill="#fdfdfd"/><circle cx="255" cy="180" r="11" fill="#f2f2f2" stroke="#999" stroke-width="3"/><circle cx="252" cy="248" r="11" fill="#f2f2f2" stroke="#999" stroke-width="3"/><circle cx="255" cy="300" r="11" fill="#f2f2f2" stroke="#999" stroke-width="3"/><circle cx="255" cy="470" r="11" fill="#f2f2f2" stroke="#999" stroke-width="3"/><circle cx="250" cy="600" r="11" fill="#f2f2f2" stroke="#999" stroke-width="3"/><circle cx="455" cy="600" r="11" fill="#f2f2f2" stroke="#999" stroke-width="3"/><circle cx="740" cy="600" r="11" fill="#f2f2f2" stroke="#999" stroke-width="3"/><circle cx="595" cy="620" r="11" fill="#f2f2f2" stroke="#999" stroke-width="3"/><circle cx="862" cy="298" r="11" fill="#f2f2f2" stroke="#999" stroke-width="3"/><circle cx="915" cy="480" r="11" fill="#f2f2f2" stroke="#999" stroke-width="3"/><circle cx="446" cy="301" r="11" fill="#f2f2f2" stroke="#999" stroke-width="3"/><circle cx="736" cy="301" r="11" fill="#f2f2f2" stroke="#999" stroke-width="3"/><circle cx="446" cy="471" r="11" fill="#f2f2f2" stroke="#999" stroke-width="3"/><circle cx="736" cy="471" r="11" fill="#f2f2f2" stroke="#999" stroke-width="3"/><path d="M840,240 L920,240 L920,262 L840,262 Z M840,285 L920,285 L920,300 L840,300 Z" fill="#ececec" stroke="#aaa" stroke-width="2"/><circle cx="400" cy="275" r="34" fill="#a9a9a9"/><circle cx="400" cy="277" r="28" fill="#4e4e4e"/><circle cx="400" cy="277" r="17" fill="#bdbdbd"/><circle cx="400" cy="277" r="7" fill="#fff"/><circle cx="515" cy="275" r="34" fill="#a9a9a9"/><circle cx="515" cy="277" r="28" fill="#4e4e4e"/><circle cx="515" cy="277" r="17" fill="#bdbdbd"/><circle cx="515" cy="277" r="7" fill="#fff"/><circle cx="682" cy="275" r="34" fill="#a9a9a9"/><circle cx="682" cy="277" r="28" fill="#4e4e4e"/><circle cx="682" cy="277" r="17" fill="#bdbdbd"/><circle cx="682" cy="277" r="7" fill="#fff"/><circle cx="795" cy="275" r="34" fill="#a9a9a9"/><circle cx="795" cy="277" r="28" fill="#4e4e4e"/><circle cx="795" cy="277" r="17" fill="#bdbdbd"/><circle cx="795" cy="277" r="7" fill="#fff"/><circle cx="400" cy="502" r="38" fill="#e0e0e0" stroke="#aaa" stroke-width="3"/><circle cx="400" cy="502" r="32" fill="#4a4a4a"/><circle cx="400" cy="500" r="20" fill="#c4c4c4"/><circle cx="510" cy="502" r="38" fill="#e0e0e0" stroke="#aaa" stroke-width="3"/><circle cx="510" cy="502" r="32" fill="#4a4a4a"/><circle cx="510" cy="500" r="20" fill="#c4c4c4"/><circle cx="688" cy="502" r="38" fill="#e0e0e0" stroke="#aaa" stroke-width="3"/><circle cx="688" cy="502" r="32" fill="#4a4a4a"/><circle cx="688" cy="500" r="20" fill="#c4c4c4"/><circle cx="795" cy="502" r="38" fill="#e0e0e0" stroke="#aaa" stroke-width="3"/><circle cx="795" cy="502" r="32" fill="#4a4a4a"/><circle cx="795" cy="500" r="20" fill="#c4c4c4"/><circle cx="335" cy="405" r="36" fill="#e2e2e2" stroke="#a5a5a5" stroke-width="4"/><circle cx="335" cy="405" r="20" fill="#eeeeee" stroke="#aaa" stroke-width="4"/><path d="M606.0,398.0 L433.0,307.1" stroke="#d8232a" stroke-width="7"/><path d="M410.0,295.0 L443.1,296.6 L430.0,321.3 Z" fill="#d8232a"/><path d="M606.0,398.0 L537.1,319.5" stroke="#d8232a" stroke-width="7"/><path d="M520.0,300.0 L550.3,313.3 L529.3,331.8 Z" fill="#d8232a"/><path d="M606.0,398.0 L664.3,320.7" stroke="#d8232a" stroke-width="7"/><path d="M680.0,300.0 L673.1,332.4 L650.7,315.5 Z" fill="#d8232a"/><path d="M606.0,398.0 L767.1,312.2" stroke="#d8232a" stroke-width="7"/><path d="M790.0,300.0 L770.1,326.5 L756.9,301.7 Z" fill="#d8232a"/><path d="M606.0,398.0 L448.6,471.1" stroke="#d8232a" stroke-width="7"/><path d="M425.0,482.0 L446.3,456.7 L458.1,482.1 Z" fill="#d8232a"/><path d="M606.0,398.0 L556.8,456.2" stroke="#d8232a" stroke-width="7"/><path d="M540.0,476.0 L548.7,444.1 L570.1,462.1 Z" fill="#d8232a"/><path d="M606.0,398.0 L653.8,457.7" stroke="#d8232a" stroke-width="7"/><path d="M670.0,478.0 L640.3,463.3 L662.2,445.8 Z" fill="#d8232a"/><path d="M606.0,398.0 L761.2,465.6" stroke="#d8232a" stroke-width="7"/><path d="M785.0,476.0 L751.9,476.9 L763.1,451.2 Z" fill="#d8232a"/><rect x="585" y="375" width="44" height="46" fill="#fff" stroke="#9a9a9a" stroke-width="3"/><text x="607.0" y="412" font-family="Liberation Sans" font-size="38" font-weight="bold" text-anchor="middle" fill="#222">8</text></svg>
<div class="fr" style="top:792px;height:227px"></div></body></html>
